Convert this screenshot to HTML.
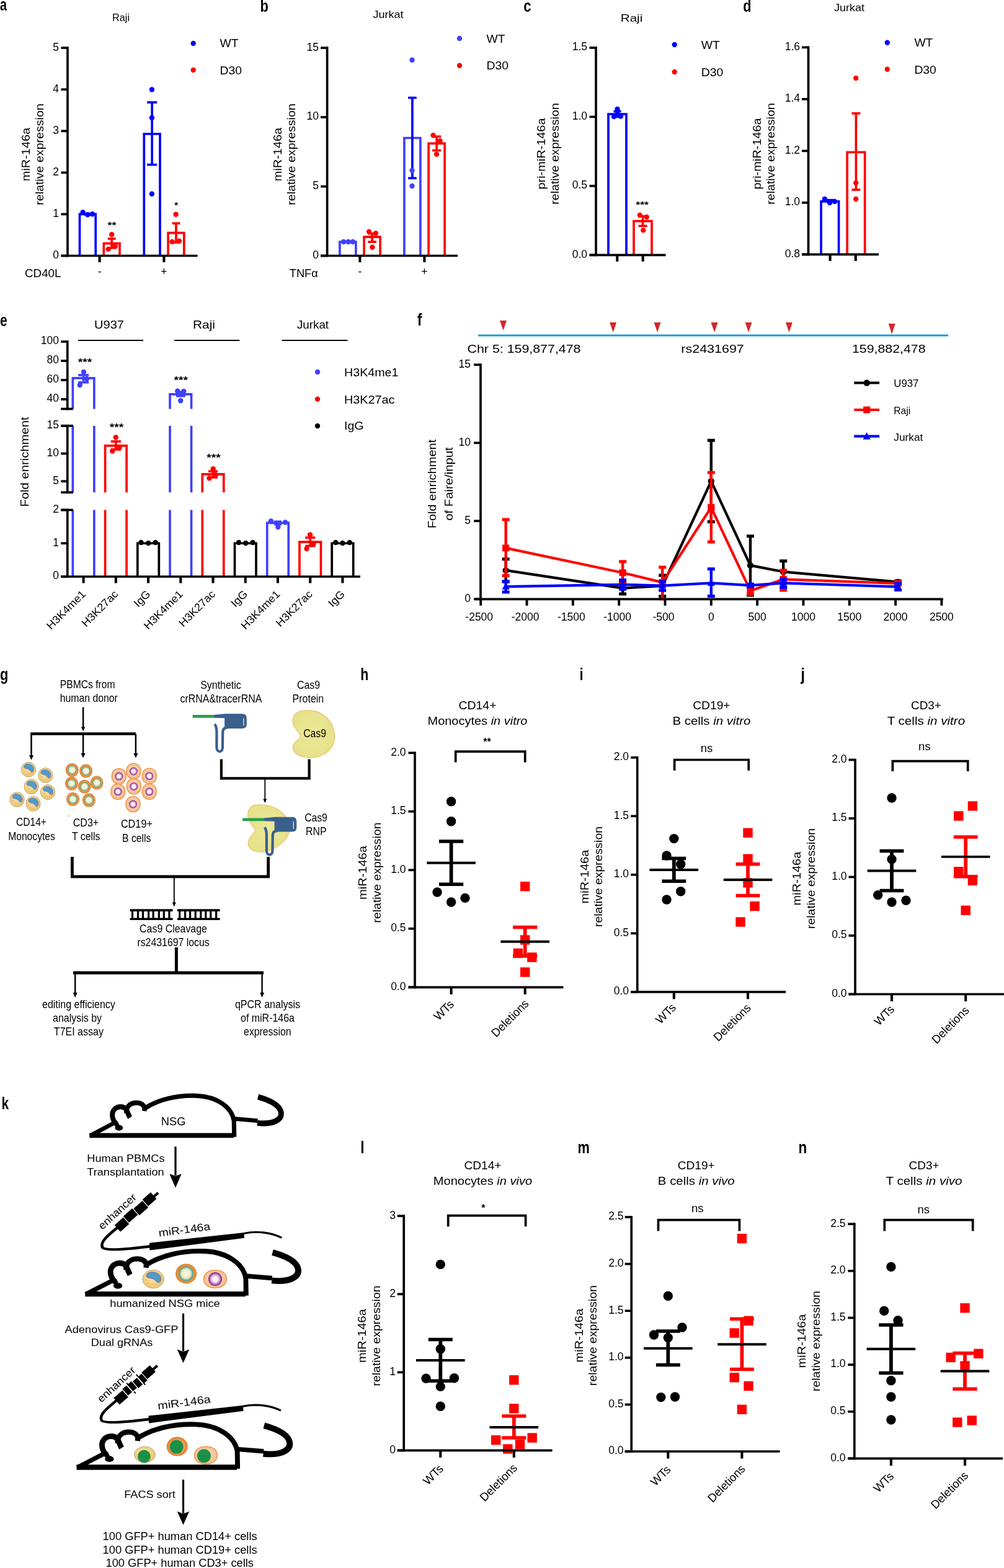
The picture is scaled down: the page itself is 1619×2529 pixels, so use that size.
<!DOCTYPE html>
<html><head><meta charset="utf-8"><title>Figure</title>
<style>
html,body{margin:0;padding:0;background:#fff;}
body{width:1619px;height:2529px;overflow:hidden;}
svg{display:block;}
text{font-family:'Liberation Sans', Arial, sans-serif;}
</style></head><body>
<svg width="1619" height="2529" viewBox="0 0 1619 2529">
<rect width="1619" height="2529" fill="#fff"/>
<text x="-0.08" y="16.7" font-size="27" font-weight="bold" textLength="10.95" lengthAdjust="spacingAndGlyphs">a</text>
<text x="195" y="34.1" font-size="17" text-anchor="middle" textLength="28" lengthAdjust="spacingAndGlyphs">Raji</text>
<path d="M128.5 412.5 V345.44 H154.2 V412.5" fill="none" stroke="#0000ff" stroke-width="3.7" stroke-linejoin="miter"/>
<path d="M167.3 412.5 V392.58 H193 V412.5" fill="none" stroke="#ff0000" stroke-width="3.7" stroke-linejoin="miter"/>
<path d="M232.3 412.5 V216.01 H258 V412.5" fill="none" stroke="#0000ff" stroke-width="3.7" stroke-linejoin="miter"/>
<path d="M271.1 412.5 V375.62 H296.8 V412.5" fill="none" stroke="#ff0000" stroke-width="3.7" stroke-linejoin="miter"/>
<line x1="141.35" y1="344.77" x2="141.35" y2="346.11" stroke="#0000ff" stroke-width="3.7"/>
<line x1="135.35" y1="344.77" x2="147.35" y2="344.77" stroke="#0000ff" stroke-width="3.7"/>
<line x1="135.35" y1="346.11" x2="147.35" y2="346.11" stroke="#0000ff" stroke-width="3.7"/>
<circle cx="133.6" cy="342.4" r="4.2" fill="#0000ff"/>
<circle cx="141.3" cy="346.2" r="4.2" fill="#0000ff"/>
<circle cx="148.9" cy="345.3" r="4.2" fill="#0000ff"/>
<line x1="180.15" y1="385.01" x2="180.15" y2="399.76" stroke="#ff0000" stroke-width="3.7"/>
<line x1="173.75" y1="385.01" x2="186.55" y2="385.01" stroke="#ff0000" stroke-width="3.7"/>
<line x1="173.75" y1="399.76" x2="186.55" y2="399.76" stroke="#ff0000" stroke-width="3.7"/>
<circle cx="180.2" cy="378.2" r="4.2" fill="#ff0000"/>
<circle cx="174.7" cy="401.9" r="4.2" fill="#ff0000"/>
<circle cx="185.7" cy="397.2" r="4.2" fill="#ff0000"/>
<line x1="245.15" y1="165.05" x2="245.15" y2="265.64" stroke="#0000ff" stroke-width="3.7"/>
<line x1="237.15" y1="165.05" x2="253.15" y2="165.05" stroke="#0000ff" stroke-width="3.7"/>
<line x1="237.15" y1="265.64" x2="253.15" y2="265.64" stroke="#0000ff" stroke-width="3.7"/>
<circle cx="244.9" cy="144.5" r="4.2" fill="#0000ff"/>
<circle cx="244.9" cy="190" r="4.2" fill="#0000ff"/>
<circle cx="244.9" cy="312.8" r="4.2" fill="#0000ff"/>
<line x1="283.95" y1="360.19" x2="283.95" y2="391.04" stroke="#ff0000" stroke-width="3.7"/>
<line x1="277.55" y1="360.19" x2="290.35" y2="360.19" stroke="#ff0000" stroke-width="3.7"/>
<line x1="277.55" y1="391.04" x2="290.35" y2="391.04" stroke="#ff0000" stroke-width="3.7"/>
<circle cx="283.6" cy="345.8" r="4.2" fill="#ff0000"/>
<circle cx="277.6" cy="390" r="4.2" fill="#ff0000"/>
<circle cx="289" cy="388.6" r="4.2" fill="#ff0000"/>
<line x1="109" y1="75.35" x2="109" y2="414.35" stroke="#000" stroke-width="3.7"/>
<line x1="98.5" y1="412.5" x2="109" y2="412.5" stroke="#000" stroke-width="3.7"/>
<text x="95" y="416.8" font-size="17.5" text-anchor="end">0</text>
<line x1="98.5" y1="345.44" x2="109" y2="345.44" stroke="#000" stroke-width="3.7"/>
<text x="95" y="349.74" font-size="17.5" text-anchor="end">1</text>
<line x1="98.5" y1="278.38" x2="109" y2="278.38" stroke="#000" stroke-width="3.7"/>
<text x="95" y="282.68" font-size="17.5" text-anchor="end">2</text>
<line x1="98.5" y1="211.32" x2="109" y2="211.32" stroke="#000" stroke-width="3.7"/>
<text x="95" y="215.62" font-size="17.5" text-anchor="end">3</text>
<line x1="98.5" y1="144.26" x2="109" y2="144.26" stroke="#000" stroke-width="3.7"/>
<text x="95" y="148.56" font-size="17.5" text-anchor="end">4</text>
<line x1="98.5" y1="77.2" x2="109" y2="77.2" stroke="#000" stroke-width="3.7"/>
<text x="95" y="81.5" font-size="17.5" text-anchor="end">5</text>
<line x1="98.5" y1="412.5" x2="318.5" y2="412.5" stroke="#000" stroke-width="3.7"/>
<line x1="160.6" y1="412.5" x2="160.6" y2="423" stroke="#000" stroke-width="4.1"/>
<line x1="264.4" y1="412.5" x2="264.4" y2="423" stroke="#000" stroke-width="4.1"/>
<text x="180.6" y="368.3" font-size="15" text-anchor="middle" font-weight="bold" textLength="14" lengthAdjust="spacingAndGlyphs">**</text>
<text x="284.1" y="336.4" font-size="15" text-anchor="middle" font-weight="bold">*</text>
<text x="47.7" y="249" font-size="17.6" text-anchor="middle" textLength="86.4" lengthAdjust="spacingAndGlyphs" transform="rotate(-90 47.7 249)">miR-146a</text>
<text x="69.5" y="249" font-size="17.6" text-anchor="middle" textLength="163.6" lengthAdjust="spacingAndGlyphs" transform="rotate(-90 69.5 249)">relative expression</text>
<circle cx="311.7" cy="70" r="4.2" fill="#0000ff"/>
<circle cx="311.7" cy="113" r="4.2" fill="#ff0000"/>
<text x="354.5" y="76.3" font-size="17.5" textLength="30" lengthAdjust="spacingAndGlyphs">WT</text>
<text x="354.5" y="119.5" font-size="17.5" textLength="35.5" lengthAdjust="spacingAndGlyphs">D30</text>
<text x="40" y="447" font-size="17.5" textLength="58.5" lengthAdjust="spacingAndGlyphs">CD40L</text>
<text x="160.6" y="444" font-size="17.5" text-anchor="middle">-</text>
<text x="264.4" y="444" font-size="17.5" text-anchor="middle">+</text>
<text x="419.54" y="19.3" font-size="27" font-weight="bold" textLength="13.34" lengthAdjust="spacingAndGlyphs">b</text>
<text x="626" y="29.2" font-size="17" text-anchor="middle" textLength="49" lengthAdjust="spacingAndGlyphs">Jurkat</text>
<path d="M547.9 412.5 V390.15 H573.9 V412.5" fill="none" stroke="#4040ff" stroke-width="3.7" stroke-linejoin="miter"/>
<path d="M587.1 412.5 V382.1 H613.1 V412.5" fill="none" stroke="#ff0000" stroke-width="3.7" stroke-linejoin="miter"/>
<path d="M651.9 412.5 V222.5 H677.9 V412.5" fill="none" stroke="#4040ff" stroke-width="3.7" stroke-linejoin="miter"/>
<path d="M691.1 412.5 V231.44 H717.1 V412.5" fill="none" stroke="#ff0000" stroke-width="3.7" stroke-linejoin="miter"/>
<line x1="560.9" y1="389.7" x2="560.9" y2="390.59" stroke="#0000ff" stroke-width="3.7"/>
<line x1="554.9" y1="389.7" x2="566.9" y2="389.7" stroke="#0000ff" stroke-width="3.7"/>
<line x1="554.9" y1="390.59" x2="566.9" y2="390.59" stroke="#0000ff" stroke-width="3.7"/>
<circle cx="554" cy="390" r="4.2" fill="#4040ff"/>
<circle cx="561.7" cy="390" r="4.2" fill="#4040ff"/>
<circle cx="569" cy="390" r="4.2" fill="#4040ff"/>
<line x1="600.1" y1="376.73" x2="600.1" y2="390.15" stroke="#ff0000" stroke-width="3.7"/>
<line x1="593.3" y1="376.73" x2="606.9" y2="376.73" stroke="#ff0000" stroke-width="3.7"/>
<line x1="593.3" y1="390.15" x2="606.9" y2="390.15" stroke="#ff0000" stroke-width="3.7"/>
<circle cx="595" cy="373.6" r="4.2" fill="#ff0000"/>
<circle cx="605.9" cy="376.3" r="4.2" fill="#ff0000"/>
<circle cx="600.4" cy="398.7" r="4.2" fill="#ff0000"/>
<line x1="664.9" y1="157.67" x2="664.9" y2="287.32" stroke="#0000ff" stroke-width="3.7"/>
<line x1="658.1" y1="157.67" x2="671.7" y2="157.67" stroke="#0000ff" stroke-width="3.7"/>
<line x1="658.1" y1="287.32" x2="671.7" y2="287.32" stroke="#0000ff" stroke-width="3.7"/>
<circle cx="664.5" cy="96.8" r="4.2" fill="#4040ff"/>
<circle cx="664.5" cy="274.9" r="4.2" fill="#4040ff"/>
<circle cx="664.5" cy="300" r="4.2" fill="#4040ff"/>
<line x1="704.1" y1="220.26" x2="704.1" y2="242.61" stroke="#ff0000" stroke-width="3.7"/>
<line x1="697.1" y1="220.26" x2="711.1" y2="220.26" stroke="#ff0000" stroke-width="3.7"/>
<line x1="697.1" y1="242.61" x2="711.1" y2="242.61" stroke="#ff0000" stroke-width="3.7"/>
<circle cx="698.6" cy="218.2" r="4.2" fill="#ff0000"/>
<circle cx="709.5" cy="227.2" r="4.2" fill="#ff0000"/>
<circle cx="704" cy="248.7" r="4.2" fill="#ff0000"/>
<line x1="527.6" y1="75.35" x2="527.6" y2="414.35" stroke="#000" stroke-width="3.7"/>
<line x1="517.1" y1="412.5" x2="527.6" y2="412.5" stroke="#000" stroke-width="3.7"/>
<text x="514" y="416.8" font-size="17.5" text-anchor="end">0</text>
<line x1="517.1" y1="300.73" x2="527.6" y2="300.73" stroke="#000" stroke-width="3.7"/>
<text x="514" y="305.03" font-size="17.5" text-anchor="end">5</text>
<line x1="517.1" y1="188.97" x2="527.6" y2="188.97" stroke="#000" stroke-width="3.7"/>
<text x="514" y="193.27" font-size="17.5" text-anchor="end">10</text>
<line x1="517.1" y1="77.2" x2="527.6" y2="77.2" stroke="#000" stroke-width="3.7"/>
<text x="514" y="81.5" font-size="17.5" text-anchor="end">15</text>
<line x1="517.1" y1="412.5" x2="738" y2="412.5" stroke="#000" stroke-width="3.7"/>
<line x1="580.4" y1="412.5" x2="580.4" y2="423" stroke="#000" stroke-width="4.1"/>
<line x1="684.4" y1="412.5" x2="684.4" y2="423" stroke="#000" stroke-width="4.1"/>
<text x="454" y="249" font-size="17.6" text-anchor="middle" textLength="86.4" lengthAdjust="spacingAndGlyphs" transform="rotate(-90 454 249)">miR-146a</text>
<text x="475.8" y="249" font-size="17.6" text-anchor="middle" textLength="163.6" lengthAdjust="spacingAndGlyphs" transform="rotate(-90 475.8 249)">relative expression</text>
<circle cx="741" cy="62" r="4.2" fill="#4040ff"/>
<circle cx="741" cy="105.8" r="4.2" fill="#ff0000"/>
<text x="784.5" y="68.7" font-size="17.5" textLength="30" lengthAdjust="spacingAndGlyphs">WT</text>
<text x="784.5" y="112" font-size="17.5" textLength="35.5" lengthAdjust="spacingAndGlyphs">D30</text>
<text x="466.8" y="447" font-size="17.5" textLength="46" lengthAdjust="spacingAndGlyphs">TNFα</text>
<text x="580.4" y="444" font-size="17.5" text-anchor="middle">-</text>
<text x="684.4" y="444" font-size="17.5" text-anchor="middle">+</text>
<text x="844.2" y="19.3" font-size="27" font-weight="bold" textLength="12.26" lengthAdjust="spacingAndGlyphs">c</text>
<text x="1018.5" y="35" font-size="17" text-anchor="middle" textLength="35.5" lengthAdjust="spacingAndGlyphs">Raji</text>
<path d="M981 411.3 V183.98 H1010 V411.3" fill="none" stroke="#0000ff" stroke-width="3.7" stroke-linejoin="miter"/>
<path d="M1022 411.3 V356.7 H1051 V411.3" fill="none" stroke="#ff0000" stroke-width="3.7" stroke-linejoin="miter"/>
<line x1="995.5" y1="179.52" x2="995.5" y2="188.43" stroke="#0000ff" stroke-width="3.7"/>
<line x1="989.5" y1="179.52" x2="1001.5" y2="179.52" stroke="#0000ff" stroke-width="3.7"/>
<line x1="989.5" y1="188.43" x2="1001.5" y2="188.43" stroke="#0000ff" stroke-width="3.7"/>
<circle cx="990" cy="188" r="4.2" fill="#0000ff"/>
<circle cx="995.5" cy="176" r="4.2" fill="#0000ff"/>
<circle cx="1001" cy="187.6" r="4.2" fill="#0000ff"/>
<circle cx="995.5" cy="184" r="4.2" fill="#0000ff"/>
<line x1="1036.5" y1="348.9" x2="1036.5" y2="364.5" stroke="#ff0000" stroke-width="3.7"/>
<line x1="1029.5" y1="348.9" x2="1043.5" y2="348.9" stroke="#ff0000" stroke-width="3.7"/>
<line x1="1029.5" y1="364.5" x2="1043.5" y2="364.5" stroke="#ff0000" stroke-width="3.7"/>
<circle cx="1031.8" cy="347" r="4.2" fill="#ff0000"/>
<circle cx="1042.7" cy="350" r="4.2" fill="#ff0000"/>
<circle cx="1037.3" cy="371.4" r="4.2" fill="#ff0000"/>
<line x1="961" y1="75.15" x2="961" y2="413.15" stroke="#000" stroke-width="3.7"/>
<line x1="950.5" y1="411.3" x2="961" y2="411.3" stroke="#000" stroke-width="3.7"/>
<text x="947" y="415.6" font-size="17.5" text-anchor="end">0.0</text>
<line x1="950.5" y1="299.87" x2="961" y2="299.87" stroke="#000" stroke-width="3.7"/>
<text x="947" y="304.17" font-size="17.5" text-anchor="end">0.5</text>
<line x1="950.5" y1="188.43" x2="961" y2="188.43" stroke="#000" stroke-width="3.7"/>
<text x="947" y="192.73" font-size="17.5" text-anchor="end">1.0</text>
<line x1="950.5" y1="77" x2="961" y2="77" stroke="#000" stroke-width="3.7"/>
<text x="947" y="81.3" font-size="17.5" text-anchor="end">1.5</text>
<line x1="950.5" y1="411.3" x2="1073.5" y2="411.3" stroke="#000" stroke-width="3.7"/>
<line x1="995.3" y1="411.3" x2="995.3" y2="421.8" stroke="#000" stroke-width="4.1"/>
<line x1="1036.7" y1="411.3" x2="1036.7" y2="421.8" stroke="#000" stroke-width="4.1"/>
<text x="1035.6" y="335.3" font-size="15" text-anchor="middle" font-weight="bold" textLength="20.5" lengthAdjust="spacingAndGlyphs">***</text>
<text x="879" y="248" font-size="17.6" text-anchor="middle" textLength="115" lengthAdjust="spacingAndGlyphs" transform="rotate(-90 879 248)">pri-miR-146a</text>
<text x="900.8" y="248" font-size="17.6" text-anchor="middle" textLength="163.6" lengthAdjust="spacingAndGlyphs" transform="rotate(-90 900.8 248)">relative expression</text>
<circle cx="1087.7" cy="72" r="4.2" fill="#0000ff"/>
<circle cx="1087.7" cy="116" r="4.2" fill="#ff0000"/>
<text x="1130.8" y="79" font-size="17.5" textLength="30" lengthAdjust="spacingAndGlyphs">WT</text>
<text x="1130.8" y="122.7" font-size="17.5" textLength="35.5" lengthAdjust="spacingAndGlyphs">D30</text>
<text x="1198.32" y="19.2" font-size="27" font-weight="bold" textLength="13.22" lengthAdjust="spacingAndGlyphs">d</text>
<text x="1369.4" y="17.7" font-size="17" text-anchor="middle" textLength="49" lengthAdjust="spacingAndGlyphs">Jurkat</text>
<path d="M1324.05 410.4 V324.81 H1352.55 V410.4" fill="none" stroke="#0000ff" stroke-width="3.7" stroke-linejoin="miter"/>
<path d="M1366.15 410.4 V245.49 H1394.65 V410.4" fill="none" stroke="#ff0000" stroke-width="3.7" stroke-linejoin="miter"/>
<line x1="1338.3" y1="322.72" x2="1338.3" y2="324.81" stroke="#0000ff" stroke-width="3.7"/>
<line x1="1332.3" y1="322.72" x2="1344.3" y2="322.72" stroke="#0000ff" stroke-width="3.7"/>
<line x1="1332.3" y1="324.81" x2="1344.3" y2="324.81" stroke="#0000ff" stroke-width="3.7"/>
<circle cx="1329.9" cy="321" r="4.2" fill="#0000ff"/>
<circle cx="1338" cy="327" r="4.2" fill="#0000ff"/>
<circle cx="1346" cy="325" r="4.2" fill="#0000ff"/>
<line x1="1380.4" y1="182.86" x2="1380.4" y2="306.02" stroke="#ff0000" stroke-width="3.7"/>
<line x1="1373.4" y1="182.86" x2="1387.4" y2="182.86" stroke="#ff0000" stroke-width="3.7"/>
<line x1="1373.4" y1="306.02" x2="1387.4" y2="306.02" stroke="#ff0000" stroke-width="3.7"/>
<circle cx="1380.2" cy="126" r="4.2" fill="#ff0000"/>
<circle cx="1380.2" cy="295" r="4.2" fill="#ff0000"/>
<circle cx="1380.2" cy="321" r="4.2" fill="#ff0000"/>
<line x1="1303.5" y1="74.55" x2="1303.5" y2="412.25" stroke="#000" stroke-width="3.7"/>
<line x1="1293" y1="410.4" x2="1303.5" y2="410.4" stroke="#000" stroke-width="3.7"/>
<text x="1290" y="414.7" font-size="17.5" text-anchor="end">0.8</text>
<line x1="1293" y1="326.9" x2="1303.5" y2="326.9" stroke="#000" stroke-width="3.7"/>
<text x="1290" y="331.2" font-size="17.5" text-anchor="end">1.0</text>
<line x1="1293" y1="243.4" x2="1303.5" y2="243.4" stroke="#000" stroke-width="3.7"/>
<text x="1290" y="247.7" font-size="17.5" text-anchor="end">1.2</text>
<line x1="1293" y1="159.9" x2="1303.5" y2="159.9" stroke="#000" stroke-width="3.7"/>
<text x="1290" y="164.2" font-size="17.5" text-anchor="end">1.4</text>
<line x1="1293" y1="76.4" x2="1303.5" y2="76.4" stroke="#000" stroke-width="3.7"/>
<text x="1290" y="80.7" font-size="17.5" text-anchor="end">1.6</text>
<line x1="1293" y1="410.4" x2="1417" y2="410.4" stroke="#000" stroke-width="3.7"/>
<line x1="1338.6" y1="410.4" x2="1338.6" y2="420.9" stroke="#000" stroke-width="4.1"/>
<line x1="1379.8" y1="410.4" x2="1379.8" y2="420.9" stroke="#000" stroke-width="4.1"/>
<text x="1227" y="248" font-size="17.6" text-anchor="middle" textLength="115" lengthAdjust="spacingAndGlyphs" transform="rotate(-90 1227 248)">pri-miR-146a</text>
<text x="1248.8" y="248" font-size="17.6" text-anchor="middle" textLength="163.6" lengthAdjust="spacingAndGlyphs" transform="rotate(-90 1248.8 248)">relative expression</text>
<circle cx="1430.8" cy="68.7" r="4.2" fill="#0000ff"/>
<circle cx="1430.8" cy="111.8" r="4.2" fill="#ff0000"/>
<text x="1474.4" y="75" font-size="17.5" textLength="30" lengthAdjust="spacingAndGlyphs">WT</text>
<text x="1474.4" y="119" font-size="17.5" textLength="35.5" lengthAdjust="spacingAndGlyphs">D30</text>
<text x="-0.05" y="525.5" font-size="27" font-weight="bold" textLength="11.67" lengthAdjust="spacingAndGlyphs">e</text>
<path d="M117.35 659.5 V609.9 H151.85 V659.5" fill="none" stroke="#4040ff" stroke-width="3.7"/>
<line x1="117.35" y1="794.15" x2="117.35" y2="686.75" stroke="#4040ff" stroke-width="3.7"/>
<line x1="151.85" y1="794.15" x2="151.85" y2="686.75" stroke="#4040ff" stroke-width="3.7"/>
<line x1="117.35" y1="930" x2="117.35" y2="822.5" stroke="#4040ff" stroke-width="3.7"/>
<line x1="151.85" y1="930" x2="151.85" y2="822.5" stroke="#4040ff" stroke-width="3.7"/>
<line x1="134.6" y1="604.94" x2="134.6" y2="616.72" stroke="#4040ff" stroke-width="3.7"/>
<line x1="126.1" y1="604.94" x2="143.1" y2="604.94" stroke="#4040ff" stroke-width="3.7"/>
<line x1="126.1" y1="616.72" x2="143.1" y2="616.72" stroke="#4040ff" stroke-width="3.7"/>
<circle cx="135" cy="600" r="4.2" fill="#4040ff"/>
<circle cx="140" cy="611" r="4.2" fill="#4040ff"/>
<circle cx="128.75" cy="621" r="4.2" fill="#4040ff"/>
<path d="M169.58 794.15 V718.79 H204.08 V794.15" fill="none" stroke="#ff0000" stroke-width="3.7"/>
<line x1="169.58" y1="930" x2="169.58" y2="822.5" stroke="#ff0000" stroke-width="3.7"/>
<line x1="204.08" y1="930" x2="204.08" y2="822.5" stroke="#ff0000" stroke-width="3.7"/>
<line x1="186.83" y1="711.99" x2="186.83" y2="724.97" stroke="#ff0000" stroke-width="3.7"/>
<line x1="178.73" y1="711.99" x2="194.93" y2="711.99" stroke="#ff0000" stroke-width="3.7"/>
<line x1="178.73" y1="724.97" x2="194.93" y2="724.97" stroke="#ff0000" stroke-width="3.7"/>
<circle cx="186.75" cy="705.5" r="4.2" fill="#ff0000"/>
<circle cx="192.5" cy="722.5" r="4.2" fill="#ff0000"/>
<circle cx="181.25" cy="727.5" r="4.2" fill="#ff0000"/>
<path d="M221.81 930 V876.25 H256.31 V930" fill="none" stroke="#000" stroke-width="3.7"/>
<circle cx="227.5" cy="875" r="4.2" fill="#000"/>
<circle cx="239.25" cy="876" r="4.2" fill="#000"/>
<circle cx="250.75" cy="875" r="4.2" fill="#000"/>
<path d="M274.04 659.5 V635.78 H308.54 V659.5" fill="none" stroke="#4040ff" stroke-width="3.7"/>
<line x1="274.04" y1="794.15" x2="274.04" y2="686.75" stroke="#4040ff" stroke-width="3.7"/>
<line x1="308.54" y1="794.15" x2="308.54" y2="686.75" stroke="#4040ff" stroke-width="3.7"/>
<line x1="274.04" y1="930" x2="274.04" y2="822.5" stroke="#4040ff" stroke-width="3.7"/>
<line x1="308.54" y1="930" x2="308.54" y2="822.5" stroke="#4040ff" stroke-width="3.7"/>
<line x1="291.29" y1="632.22" x2="291.29" y2="638.73" stroke="#4040ff" stroke-width="3.7"/>
<line x1="283.79" y1="632.22" x2="298.79" y2="632.22" stroke="#4040ff" stroke-width="3.7"/>
<line x1="283.79" y1="638.73" x2="298.79" y2="638.73" stroke="#4040ff" stroke-width="3.7"/>
<circle cx="286.25" cy="630.75" r="4.2" fill="#4040ff"/>
<circle cx="296.25" cy="631.25" r="4.2" fill="#4040ff"/>
<circle cx="291.25" cy="646.25" r="4.2" fill="#4040ff"/>
<path d="M326.27 794.15 V764.97 H360.77 V794.15" fill="none" stroke="#ff0000" stroke-width="3.7"/>
<line x1="326.27" y1="930" x2="326.27" y2="822.5" stroke="#ff0000" stroke-width="3.7"/>
<line x1="360.77" y1="930" x2="360.77" y2="822.5" stroke="#ff0000" stroke-width="3.7"/>
<line x1="343.52" y1="760.14" x2="343.52" y2="769.99" stroke="#ff0000" stroke-width="3.7"/>
<line x1="336.02" y1="760.14" x2="351.02" y2="760.14" stroke="#ff0000" stroke-width="3.7"/>
<line x1="336.02" y1="769.99" x2="351.02" y2="769.99" stroke="#ff0000" stroke-width="3.7"/>
<circle cx="343.75" cy="756.25" r="4.2" fill="#ff0000"/>
<circle cx="347.5" cy="766.25" r="4.2" fill="#ff0000"/>
<circle cx="337.5" cy="771.25" r="4.2" fill="#ff0000"/>
<path d="M378.5 930 V876.25 H413 V930" fill="none" stroke="#000" stroke-width="3.7"/>
<circle cx="385" cy="875" r="4.2" fill="#000"/>
<circle cx="396.25" cy="876" r="4.2" fill="#000"/>
<circle cx="407.5" cy="875" r="4.2" fill="#000"/>
<path d="M430.73 930 V843.46 H465.23 V930" fill="none" stroke="#4040ff" stroke-width="3.7"/>
<line x1="447.98" y1="841.31" x2="447.98" y2="845.61" stroke="#4040ff" stroke-width="3.7"/>
<line x1="441.98" y1="841.31" x2="453.98" y2="841.31" stroke="#4040ff" stroke-width="3.7"/>
<line x1="441.98" y1="845.61" x2="453.98" y2="845.61" stroke="#4040ff" stroke-width="3.7"/>
<circle cx="437" cy="840.5" r="4.2" fill="#4040ff"/>
<circle cx="460" cy="842.5" r="4.2" fill="#4040ff"/>
<circle cx="448.25" cy="850" r="4.2" fill="#4040ff"/>
<path d="M482.96 930 V874.1 H517.46 V930" fill="none" stroke="#ff0000" stroke-width="3.7"/>
<line x1="500.21" y1="867.11" x2="500.21" y2="880.55" stroke="#ff0000" stroke-width="3.7"/>
<line x1="492.21" y1="867.11" x2="508.21" y2="867.11" stroke="#ff0000" stroke-width="3.7"/>
<line x1="492.21" y1="880.55" x2="508.21" y2="880.55" stroke="#ff0000" stroke-width="3.7"/>
<circle cx="494.5" cy="885" r="4.2" fill="#ff0000"/>
<circle cx="500" cy="862.5" r="4.2" fill="#ff0000"/>
<circle cx="505.5" cy="877.5" r="4.2" fill="#ff0000"/>
<path d="M535.19 930 V876.25 H569.69 V930" fill="none" stroke="#000" stroke-width="3.7"/>
<circle cx="541.25" cy="875" r="4.2" fill="#000"/>
<circle cx="552.5" cy="876" r="4.2" fill="#000"/>
<circle cx="563.75" cy="875" r="4.2" fill="#000"/>
<line x1="108.75" y1="549.15" x2="108.75" y2="661.35" stroke="#000" stroke-width="3.7"/>
<line x1="108.75" y1="684.9" x2="108.75" y2="796" stroke="#000" stroke-width="3.7"/>
<line x1="108.75" y1="820.65" x2="108.75" y2="931.85" stroke="#000" stroke-width="3.7"/>
<line x1="98.25" y1="551" x2="108.75" y2="551" stroke="#000" stroke-width="3.7"/>
<text x="95" y="555.3" font-size="17.5" text-anchor="end">100</text>
<line x1="98.25" y1="582" x2="108.75" y2="582" stroke="#000" stroke-width="3.7"/>
<text x="95" y="586.3" font-size="17.5" text-anchor="end">80</text>
<line x1="98.25" y1="613" x2="108.75" y2="613" stroke="#000" stroke-width="3.7"/>
<text x="95" y="617.3" font-size="17.5" text-anchor="end">60</text>
<line x1="98.25" y1="644" x2="108.75" y2="644" stroke="#000" stroke-width="3.7"/>
<text x="95" y="648.3" font-size="17.5" text-anchor="end">40</text>
<line x1="98.25" y1="659.5" x2="117.75" y2="659.5" stroke="#000" stroke-width="3.7"/>
<line x1="98.25" y1="686.75" x2="108.75" y2="686.75" stroke="#000" stroke-width="3.7"/>
<text x="95" y="691.05" font-size="17.5" text-anchor="end">15</text>
<line x1="98.25" y1="731.5" x2="108.75" y2="731.5" stroke="#000" stroke-width="3.7"/>
<text x="95" y="735.8" font-size="17.5" text-anchor="end">10</text>
<line x1="98.25" y1="776.25" x2="108.75" y2="776.25" stroke="#000" stroke-width="3.7"/>
<text x="95" y="780.55" font-size="17.5" text-anchor="end">5</text>
<line x1="98.25" y1="686.75" x2="117.75" y2="686.75" stroke="#000" stroke-width="3.7"/>
<line x1="98.25" y1="794.15" x2="117.75" y2="794.15" stroke="#000" stroke-width="3.7"/>
<line x1="98.25" y1="822.5" x2="108.75" y2="822.5" stroke="#000" stroke-width="3.7"/>
<text x="95" y="826.8" font-size="17.5" text-anchor="end">2</text>
<line x1="98.25" y1="876.25" x2="108.75" y2="876.25" stroke="#000" stroke-width="3.7"/>
<text x="95" y="880.55" font-size="17.5" text-anchor="end">1</text>
<line x1="98.25" y1="930" x2="108.75" y2="930" stroke="#000" stroke-width="3.7"/>
<text x="95" y="934.3" font-size="17.5" text-anchor="end">0</text>
<line x1="98.25" y1="822.5" x2="117.75" y2="822.5" stroke="#000" stroke-width="3.7"/>
<line x1="98.25" y1="930" x2="581" y2="930" stroke="#000" stroke-width="3.7"/>
<line x1="134.6" y1="930" x2="134.6" y2="940.5" stroke="#000" stroke-width="4.1"/>
<line x1="186.83" y1="930" x2="186.83" y2="940.5" stroke="#000" stroke-width="4.1"/>
<line x1="239.06" y1="930" x2="239.06" y2="940.5" stroke="#000" stroke-width="4.1"/>
<line x1="291.29" y1="930" x2="291.29" y2="940.5" stroke="#000" stroke-width="4.1"/>
<line x1="343.52" y1="930" x2="343.52" y2="940.5" stroke="#000" stroke-width="4.1"/>
<line x1="395.75" y1="930" x2="395.75" y2="940.5" stroke="#000" stroke-width="4.1"/>
<line x1="447.98" y1="930" x2="447.98" y2="940.5" stroke="#000" stroke-width="4.1"/>
<line x1="500.21" y1="930" x2="500.21" y2="940.5" stroke="#000" stroke-width="4.1"/>
<line x1="552.44" y1="930" x2="552.44" y2="940.5" stroke="#000" stroke-width="4.1"/>
<text x="139.2" y="959.3" font-size="17.5" text-anchor="end" textLength="80.5" lengthAdjust="spacingAndGlyphs" transform="rotate(-45 139.2 959.3)">H3K4me1</text>
<text x="191.43" y="959.3" font-size="17.5" text-anchor="end" textLength="74.5" lengthAdjust="spacingAndGlyphs" transform="rotate(-45 191.43 959.3)">H3K27ac</text>
<text x="243.66" y="959.3" font-size="17.5" text-anchor="end" textLength="29.5" lengthAdjust="spacingAndGlyphs" transform="rotate(-45 243.66 959.3)">IgG</text>
<text x="295.89" y="959.3" font-size="17.5" text-anchor="end" textLength="80.5" lengthAdjust="spacingAndGlyphs" transform="rotate(-45 295.89 959.3)">H3K4me1</text>
<text x="348.12" y="959.3" font-size="17.5" text-anchor="end" textLength="74.5" lengthAdjust="spacingAndGlyphs" transform="rotate(-45 348.12 959.3)">H3K27ac</text>
<text x="400.35" y="959.3" font-size="17.5" text-anchor="end" textLength="29.5" lengthAdjust="spacingAndGlyphs" transform="rotate(-45 400.35 959.3)">IgG</text>
<text x="452.58" y="959.3" font-size="17.5" text-anchor="end" textLength="80.5" lengthAdjust="spacingAndGlyphs" transform="rotate(-45 452.58 959.3)">H3K4me1</text>
<text x="504.81" y="959.3" font-size="17.5" text-anchor="end" textLength="74.5" lengthAdjust="spacingAndGlyphs" transform="rotate(-45 504.81 959.3)">H3K27ac</text>
<text x="557.04" y="959.3" font-size="17.5" text-anchor="end" textLength="29.5" lengthAdjust="spacingAndGlyphs" transform="rotate(-45 557.04 959.3)">IgG</text>
<text x="176" y="530" font-size="17.5" text-anchor="middle" textLength="48" lengthAdjust="spacingAndGlyphs">U937</text>
<text x="329" y="530" font-size="17.5" text-anchor="middle" textLength="36" lengthAdjust="spacingAndGlyphs">Raji</text>
<text x="504.5" y="530" font-size="17.5" text-anchor="middle" textLength="51" lengthAdjust="spacingAndGlyphs">Jurkat</text>
<line x1="126" y1="549" x2="231" y2="549" stroke="#000" stroke-width="2.2"/>
<line x1="281" y1="549" x2="386.25" y2="549" stroke="#000" stroke-width="2.2"/>
<line x1="454.5" y1="549" x2="560.5" y2="549" stroke="#000" stroke-width="2.2"/>
<text x="137" y="590" font-size="16" text-anchor="middle" font-weight="bold" textLength="22.5" lengthAdjust="spacingAndGlyphs">***</text>
<text x="188" y="695" font-size="16" text-anchor="middle" font-weight="bold" textLength="22.5" lengthAdjust="spacingAndGlyphs">***</text>
<text x="291.75" y="619.3" font-size="16" text-anchor="middle" font-weight="bold" textLength="22.5" lengthAdjust="spacingAndGlyphs">***</text>
<text x="344.5" y="744.3" font-size="16" text-anchor="middle" font-weight="bold" textLength="22.5" lengthAdjust="spacingAndGlyphs">***</text>
<circle cx="512" cy="600" r="4.2" fill="#4040ff"/>
<circle cx="512" cy="643.75" r="4.2" fill="#ff0000"/>
<circle cx="512" cy="687" r="4.2" fill="#000"/>
<text x="555" y="607" font-size="17.5" textLength="87.5" lengthAdjust="spacingAndGlyphs">H3K4me1</text>
<text x="555" y="650.5" font-size="17.5" textLength="81.5" lengthAdjust="spacingAndGlyphs">H3K27ac</text>
<text x="555" y="693" font-size="17.5" textLength="31.5" lengthAdjust="spacingAndGlyphs">IgG</text>
<text x="46.3" y="745" font-size="18" text-anchor="middle" textLength="145" lengthAdjust="spacingAndGlyphs" transform="rotate(-90 46.3 745)">Fold enrichment</text>
<text x="672.67" y="525.1" font-size="27" font-weight="bold" textLength="7.72" lengthAdjust="spacingAndGlyphs">f</text>
<line x1="771" y1="541" x2="1529.2" y2="541" stroke="#1c9ad6" stroke-width="3"/>
<path d="M806 517 L817 517 L811.5 533 Z" fill="#d42a2a"/>
<path d="M983.1 520 L994.1 520 L988.6 536 Z" fill="#d42a2a"/>
<path d="M1054.5 520 L1065.5 520 L1060 536 Z" fill="#d42a2a"/>
<path d="M1146.5 520 L1157.5 520 L1152 536 Z" fill="#d42a2a"/>
<path d="M1201.5 520 L1212.5 520 L1207 536 Z" fill="#d42a2a"/>
<path d="M1266.9 520 L1277.9 520 L1272.4 536 Z" fill="#d42a2a"/>
<path d="M1432.7 522 L1443.7 522 L1438.2 539 Z" fill="#d42a2a"/>
<text x="753.5" y="568.6" font-size="18.5" textLength="183" lengthAdjust="spacingAndGlyphs">Chr 5: 159,877,478</text>
<text x="1098.3" y="568.6" font-size="18.5" textLength="101.5" lengthAdjust="spacingAndGlyphs">rs2431697</text>
<text x="1374" y="568.6" font-size="18.5" textLength="118.5" lengthAdjust="spacingAndGlyphs">159,882,478</text>
<polyline points="815.65,919.93 1004.12,948.66 1068.17,944.88 1146.8,776.04 1209.97,911.87 1263.18,922.2 1448.07,938.58" fill="none" stroke="#000" stroke-width="4.2" stroke-linejoin="round"/>
<line x1="815.65" y1="901.79" x2="815.65" y2="938.08" stroke="#000" stroke-width="4.4"/>
<line x1="809.65" y1="901.79" x2="821.65" y2="901.79" stroke="#000" stroke-width="5"/>
<line x1="809.65" y1="938.08" x2="821.65" y2="938.08" stroke="#000" stroke-width="5"/>
<circle cx="815.65" cy="919.93" r="5.2" fill="#000"/>
<line x1="1004.12" y1="939.34" x2="1004.12" y2="957.98" stroke="#000" stroke-width="4.4"/>
<line x1="998.12" y1="939.34" x2="1010.12" y2="939.34" stroke="#000" stroke-width="5"/>
<line x1="998.12" y1="957.98" x2="1010.12" y2="957.98" stroke="#000" stroke-width="5"/>
<circle cx="1004.12" cy="948.66" r="5.2" fill="#000"/>
<line x1="1068.17" y1="928" x2="1068.17" y2="961.76" stroke="#000" stroke-width="4.4"/>
<line x1="1062.17" y1="928" x2="1074.17" y2="928" stroke="#000" stroke-width="5"/>
<line x1="1062.17" y1="961.76" x2="1074.17" y2="961.76" stroke="#000" stroke-width="5"/>
<circle cx="1068.17" cy="944.88" r="5.2" fill="#000"/>
<line x1="1146.8" y1="710.27" x2="1146.8" y2="841.56" stroke="#000" stroke-width="4.4"/>
<line x1="1140.8" y1="710.27" x2="1152.8" y2="710.27" stroke="#000" stroke-width="5"/>
<line x1="1140.8" y1="841.56" x2="1152.8" y2="841.56" stroke="#000" stroke-width="5"/>
<circle cx="1146.8" cy="776.04" r="5.2" fill="#000"/>
<line x1="1209.97" y1="864.74" x2="1209.97" y2="960" stroke="#000" stroke-width="4.4"/>
<line x1="1203.97" y1="864.74" x2="1215.97" y2="864.74" stroke="#000" stroke-width="5"/>
<line x1="1203.97" y1="960" x2="1215.97" y2="960" stroke="#000" stroke-width="5"/>
<circle cx="1209.97" cy="911.87" r="5.2" fill="#000"/>
<line x1="1263.18" y1="904.81" x2="1263.18" y2="939.59" stroke="#000" stroke-width="4.4"/>
<line x1="1257.18" y1="904.81" x2="1269.18" y2="904.81" stroke="#000" stroke-width="5"/>
<line x1="1257.18" y1="939.59" x2="1269.18" y2="939.59" stroke="#000" stroke-width="5"/>
<circle cx="1263.18" cy="922.2" r="5.2" fill="#000"/>
<line x1="1448.07" y1="937.07" x2="1448.07" y2="940.09" stroke="#000" stroke-width="4.4"/>
<line x1="1442.07" y1="937.07" x2="1454.07" y2="937.07" stroke="#000" stroke-width="5"/>
<line x1="1442.07" y1="940.09" x2="1454.07" y2="940.09" stroke="#000" stroke-width="5"/>
<circle cx="1448.07" cy="938.58" r="5.2" fill="#000"/>
<polyline points="815.65,883.9 1004.12,923.71 1068.17,939.34 1146.8,818.38 1209.97,952.94 1263.18,934.3 1448.07,940.85" fill="none" stroke="#ff0000" stroke-width="4.2" stroke-linejoin="round"/>
<line x1="815.65" y1="838.03" x2="815.65" y2="928.5" stroke="#ff0000" stroke-width="4.4"/>
<line x1="809.65" y1="838.03" x2="821.65" y2="838.03" stroke="#ff0000" stroke-width="5"/>
<line x1="809.65" y1="928.5" x2="821.65" y2="928.5" stroke="#ff0000" stroke-width="5"/>
<rect x="810.05" y="878.5" width="11.2" height="10.8" fill="#ff0000"/>
<line x1="1004.12" y1="905.82" x2="1004.12" y2="941.35" stroke="#ff0000" stroke-width="4.4"/>
<line x1="998.12" y1="905.82" x2="1010.12" y2="905.82" stroke="#ff0000" stroke-width="5"/>
<line x1="998.12" y1="941.35" x2="1010.12" y2="941.35" stroke="#ff0000" stroke-width="5"/>
<rect x="998.52" y="918.31" width="11.2" height="10.8" fill="#ff0000"/>
<line x1="1068.17" y1="914.89" x2="1068.17" y2="965.8" stroke="#ff0000" stroke-width="4.4"/>
<line x1="1062.17" y1="914.89" x2="1074.17" y2="914.89" stroke="#ff0000" stroke-width="5"/>
<line x1="1062.17" y1="965.8" x2="1074.17" y2="965.8" stroke="#ff0000" stroke-width="5"/>
<rect x="1062.57" y="933.94" width="11.2" height="10.8" fill="#ff0000"/>
<line x1="1146.8" y1="762.18" x2="1146.8" y2="874.07" stroke="#ff0000" stroke-width="4.4"/>
<line x1="1140.8" y1="762.18" x2="1152.8" y2="762.18" stroke="#ff0000" stroke-width="5"/>
<line x1="1140.8" y1="874.07" x2="1152.8" y2="874.07" stroke="#ff0000" stroke-width="5"/>
<rect x="1141.2" y="812.98" width="11.2" height="10.8" fill="#ff0000"/>
<line x1="1209.97" y1="947.15" x2="1209.97" y2="958.74" stroke="#ff0000" stroke-width="4.4"/>
<line x1="1203.97" y1="947.15" x2="1215.97" y2="947.15" stroke="#ff0000" stroke-width="5"/>
<line x1="1203.97" y1="958.74" x2="1215.97" y2="958.74" stroke="#ff0000" stroke-width="5"/>
<rect x="1204.37" y="947.54" width="11.2" height="10.8" fill="#ff0000"/>
<line x1="1263.18" y1="919.93" x2="1263.18" y2="951.94" stroke="#ff0000" stroke-width="4.4"/>
<line x1="1257.18" y1="919.93" x2="1269.18" y2="919.93" stroke="#ff0000" stroke-width="5"/>
<line x1="1257.18" y1="951.94" x2="1269.18" y2="951.94" stroke="#ff0000" stroke-width="5"/>
<rect x="1257.58" y="928.9" width="11.2" height="10.8" fill="#ff0000"/>
<line x1="1448.07" y1="938.58" x2="1448.07" y2="943.12" stroke="#ff0000" stroke-width="4.4"/>
<line x1="1442.07" y1="938.58" x2="1454.07" y2="938.58" stroke="#ff0000" stroke-width="5"/>
<line x1="1442.07" y1="943.12" x2="1454.07" y2="943.12" stroke="#ff0000" stroke-width="5"/>
<rect x="1442.47" y="935.45" width="11.2" height="10.8" fill="#ff0000"/>
<polyline points="815.65,946.14 1004.12,942.86 1068.17,944.63 1146.8,940.34 1209.97,944.12 1263.18,940.34 1448.07,946.39" fill="none" stroke="#0000ff" stroke-width="4.2" stroke-linejoin="round"/>
<line x1="815.65" y1="937.82" x2="815.65" y2="954.96" stroke="#0000ff" stroke-width="4.4"/>
<line x1="809.65" y1="937.82" x2="821.65" y2="937.82" stroke="#0000ff" stroke-width="5"/>
<line x1="809.65" y1="954.96" x2="821.65" y2="954.96" stroke="#0000ff" stroke-width="5"/>
<path d="M815.65 939.64 L821.85 950.64 L809.45 950.64 Z" fill="#0000ff"/>
<line x1="1004.12" y1="935.56" x2="1004.12" y2="950.17" stroke="#0000ff" stroke-width="4.4"/>
<line x1="998.12" y1="935.56" x2="1010.12" y2="935.56" stroke="#0000ff" stroke-width="5"/>
<line x1="998.12" y1="950.17" x2="1010.12" y2="950.17" stroke="#0000ff" stroke-width="5"/>
<path d="M1004.12 936.36 L1010.32 947.36 L997.92 947.36 Z" fill="#0000ff"/>
<line x1="1068.17" y1="937.82" x2="1068.17" y2="952.19" stroke="#0000ff" stroke-width="4.4"/>
<line x1="1062.17" y1="937.82" x2="1074.17" y2="937.82" stroke="#0000ff" stroke-width="5"/>
<line x1="1062.17" y1="952.19" x2="1074.17" y2="952.19" stroke="#0000ff" stroke-width="5"/>
<path d="M1068.17 938.13 L1074.37 949.13 L1061.97 949.13 Z" fill="#0000ff"/>
<line x1="1146.8" y1="917.66" x2="1146.8" y2="961.51" stroke="#0000ff" stroke-width="4.4"/>
<line x1="1140.8" y1="917.66" x2="1152.8" y2="917.66" stroke="#0000ff" stroke-width="5"/>
<line x1="1140.8" y1="961.51" x2="1152.8" y2="961.51" stroke="#0000ff" stroke-width="5"/>
<path d="M1146.8 933.84 L1153 944.84 L1140.6 944.84 Z" fill="#0000ff"/>
<line x1="1209.97" y1="942.11" x2="1209.97" y2="946.14" stroke="#0000ff" stroke-width="4.4"/>
<line x1="1203.97" y1="942.11" x2="1215.97" y2="942.11" stroke="#0000ff" stroke-width="5"/>
<line x1="1203.97" y1="946.14" x2="1215.97" y2="946.14" stroke="#0000ff" stroke-width="5"/>
<path d="M1209.97 937.62 L1216.17 948.62 L1203.77 948.62 Z" fill="#0000ff"/>
<line x1="1263.18" y1="934.3" x2="1263.18" y2="947.4" stroke="#0000ff" stroke-width="4.4"/>
<line x1="1257.18" y1="934.3" x2="1269.18" y2="934.3" stroke="#0000ff" stroke-width="5"/>
<line x1="1257.18" y1="947.4" x2="1269.18" y2="947.4" stroke="#0000ff" stroke-width="5"/>
<path d="M1263.18 933.84 L1269.38 944.84 L1256.98 944.84 Z" fill="#0000ff"/>
<line x1="1448.07" y1="941.1" x2="1448.07" y2="951.43" stroke="#0000ff" stroke-width="4.4"/>
<line x1="1442.07" y1="941.1" x2="1454.07" y2="941.1" stroke="#0000ff" stroke-width="5"/>
<line x1="1442.07" y1="951.43" x2="1454.07" y2="951.43" stroke="#0000ff" stroke-width="5"/>
<path d="M1448.07 939.89 L1454.27 950.89 L1441.87 950.89 Z" fill="#0000ff"/>
<line x1="775" y1="586.45" x2="775" y2="968.15" stroke="#000" stroke-width="3.7"/>
<line x1="764.2" y1="966.3" x2="775" y2="966.3" stroke="#000" stroke-width="3.7"/>
<text x="759" y="970.6" font-size="17.5" text-anchor="end">0</text>
<line x1="764.2" y1="840.3" x2="775" y2="840.3" stroke="#000" stroke-width="3.7"/>
<text x="759" y="844.6" font-size="17.5" text-anchor="end">5</text>
<line x1="764.2" y1="714.3" x2="775" y2="714.3" stroke="#000" stroke-width="3.7"/>
<text x="759" y="718.6" font-size="17.5" text-anchor="end">10</text>
<line x1="764.2" y1="588.3" x2="775" y2="588.3" stroke="#000" stroke-width="3.7"/>
<text x="759" y="592.6" font-size="17.5" text-anchor="end">15</text>
<line x1="765.7" y1="966.3" x2="1520.8" y2="966.3" stroke="#000" stroke-width="3.7"/>
<line x1="775.22" y1="966.3" x2="775.22" y2="976.8" stroke="#000" stroke-width="3.9"/>
<text x="772.72" y="1001.4" font-size="17.5" text-anchor="middle">-2500</text>
<line x1="849.54" y1="966.3" x2="849.54" y2="976.8" stroke="#000" stroke-width="3.9"/>
<text x="847.04" y="1001.4" font-size="17.5" text-anchor="middle">-2000</text>
<line x1="923.85" y1="966.3" x2="923.85" y2="976.8" stroke="#000" stroke-width="3.9"/>
<text x="921.35" y="1001.4" font-size="17.5" text-anchor="middle">-1500</text>
<line x1="998.17" y1="966.3" x2="998.17" y2="976.8" stroke="#000" stroke-width="3.9"/>
<text x="995.67" y="1001.4" font-size="17.5" text-anchor="middle">-1000</text>
<line x1="1072.48" y1="966.3" x2="1072.48" y2="976.8" stroke="#000" stroke-width="3.9"/>
<text x="1069.98" y="1001.4" font-size="17.5" text-anchor="middle">-500</text>
<line x1="1146.8" y1="966.3" x2="1146.8" y2="976.8" stroke="#000" stroke-width="3.9"/>
<text x="1146.8" y="1001.4" font-size="17.5" text-anchor="middle">0</text>
<line x1="1221.12" y1="966.3" x2="1221.12" y2="976.8" stroke="#000" stroke-width="3.9"/>
<text x="1221.12" y="1001.4" font-size="17.5" text-anchor="middle">500</text>
<line x1="1295.43" y1="966.3" x2="1295.43" y2="976.8" stroke="#000" stroke-width="3.9"/>
<text x="1295.43" y="1001.4" font-size="17.5" text-anchor="middle">1000</text>
<line x1="1369.74" y1="966.3" x2="1369.74" y2="976.8" stroke="#000" stroke-width="3.9"/>
<text x="1369.74" y="1001.4" font-size="17.5" text-anchor="middle">1500</text>
<line x1="1444.06" y1="966.3" x2="1444.06" y2="976.8" stroke="#000" stroke-width="3.9"/>
<text x="1444.06" y="1001.4" font-size="17.5" text-anchor="middle">2000</text>
<line x1="1518.38" y1="966.3" x2="1518.38" y2="976.8" stroke="#000" stroke-width="3.9"/>
<text x="1518.38" y="1001.4" font-size="17.5" text-anchor="middle">2500</text>
<text x="703.4" y="780.5" font-size="18" text-anchor="middle" textLength="143.5" lengthAdjust="spacingAndGlyphs" transform="rotate(-90 703.4 780.5)">Fold enrichment</text>
<text x="729.9" y="780.5" font-size="18" text-anchor="middle" textLength="118.5" lengthAdjust="spacingAndGlyphs" transform="rotate(-90 729.9 780.5)">of Faire/input</text>
<line x1="1377.3" y1="617.5" x2="1418.1" y2="617.5" stroke="#000" stroke-width="4.2"/>
<circle cx="1397.7" cy="617.5" r="5.2" fill="#000"/>
<text x="1441.3" y="624" font-size="17" textLength="40" lengthAdjust="spacingAndGlyphs">U937</text>
<line x1="1377.3" y1="661" x2="1418.1" y2="661" stroke="#ff0000" stroke-width="4.2"/>
<rect x="1392.1" y="655.6" width="11.2" height="10.8" fill="#ff0000"/>
<text x="1441.3" y="667.7" font-size="17" textLength="27" lengthAdjust="spacingAndGlyphs">Raji</text>
<line x1="1377.3" y1="703.7" x2="1418.1" y2="703.7" stroke="#0000ff" stroke-width="4.2"/>
<path d="M1397.7 697.2 L1403.9 708.7 L1391.5 708.7 Z" fill="#0000ff"/>
<text x="1441.3" y="711.3" font-size="17" textLength="47" lengthAdjust="spacingAndGlyphs">Jurkat</text>
<text x="581.2" y="1096.8" font-size="27" font-weight="bold" textLength="13.04" lengthAdjust="spacingAndGlyphs">h</text>
<text x="934.46" y="1096.8" font-size="27" font-weight="bold" textLength="6.08" lengthAdjust="spacingAndGlyphs">i</text>
<text x="1291.36" y="1096.8" font-size="27" font-weight="bold" textLength="6.75" lengthAdjust="spacingAndGlyphs">j</text>
<circle cx="727.6" cy="1292.8" r="7.7" fill="#000"/>
<circle cx="727.6" cy="1324.7" r="7.7" fill="#000"/>
<circle cx="705" cy="1439" r="7.7" fill="#000"/>
<circle cx="727.6" cy="1455" r="7.7" fill="#000"/>
<circle cx="750" cy="1448.4" r="7.7" fill="#000"/>
<rect x="839" y="1422" width="15.4" height="15.4" fill="#ff0000"/>
<rect x="839" y="1508.3" width="15.4" height="15.4" fill="#ff0000"/>
<rect x="827.6" y="1529.7" width="15.4" height="15.4" fill="#ff0000"/>
<rect x="850.2" y="1536.3" width="15.4" height="15.4" fill="#ff0000"/>
<rect x="839" y="1560.3" width="15.4" height="15.4" fill="#ff0000"/>
<line x1="727.6" y1="1357" x2="727.6" y2="1426.3" stroke="#000" stroke-width="5.8"/>
<line x1="708" y1="1357" x2="747.2" y2="1357" stroke="#000" stroke-width="5.5"/>
<line x1="708" y1="1426.3" x2="747.2" y2="1426.3" stroke="#000" stroke-width="5.5"/>
<line x1="688.3" y1="1391.7" x2="766.9" y2="1391.7" stroke="#000" stroke-width="3.9"/>
<line x1="846.7" y1="1495.4" x2="846.7" y2="1542" stroke="#ff0000" stroke-width="5.8"/>
<line x1="827.1" y1="1495.4" x2="866.3" y2="1495.4" stroke="#ff0000" stroke-width="5.5"/>
<line x1="827.1" y1="1542" x2="866.3" y2="1542" stroke="#ff0000" stroke-width="5.5"/>
<line x1="807.4" y1="1518.8" x2="886" y2="1518.8" stroke="#000" stroke-width="3.9"/>
<line x1="669" y1="1212.45" x2="669" y2="1594.15" stroke="#000" stroke-width="3.7"/>
<line x1="658.5" y1="1592.3" x2="669" y2="1592.3" stroke="#000" stroke-width="3.7"/>
<text x="654.5" y="1596.6" font-size="17.5" text-anchor="end">0.0</text>
<line x1="658.5" y1="1497.8" x2="669" y2="1497.8" stroke="#000" stroke-width="3.7"/>
<text x="654.5" y="1502.1" font-size="17.5" text-anchor="end">0.5</text>
<line x1="658.5" y1="1403.3" x2="669" y2="1403.3" stroke="#000" stroke-width="3.7"/>
<text x="654.5" y="1407.6" font-size="17.5" text-anchor="end">1.0</text>
<line x1="658.5" y1="1308.8" x2="669" y2="1308.8" stroke="#000" stroke-width="3.7"/>
<text x="654.5" y="1313.1" font-size="17.5" text-anchor="end">1.5</text>
<line x1="658.5" y1="1214.3" x2="669" y2="1214.3" stroke="#000" stroke-width="3.7"/>
<text x="654.5" y="1218.6" font-size="17.5" text-anchor="end">2.0</text>
<line x1="658.5" y1="1592.3" x2="908.4" y2="1592.3" stroke="#000" stroke-width="3.7"/>
<line x1="727.6" y1="1592.3" x2="727.6" y2="1603.8" stroke="#000" stroke-width="4.1"/>
<line x1="846.7" y1="1592.3" x2="846.7" y2="1603.8" stroke="#000" stroke-width="4.1"/>
<path d="M734.7 1229.5 V1212.2 H846.7 V1229.5" fill="none" stroke="#000" stroke-width="3.7"/>
<text x="785.5" y="1201.5" font-size="16" text-anchor="middle" font-weight="bold">**</text>
<text x="770" y="1144.4" font-size="17.5" text-anchor="middle" textLength="61" lengthAdjust="spacingAndGlyphs">CD14+</text>
<text x="770" y="1169" font-size="17.5" text-anchor="middle" textLength="161" lengthAdjust="spacingAndGlyphs">Monocytes <tspan font-style="italic">in vitro</tspan></text>
<text x="591" y="1407.5" font-size="18" text-anchor="middle" textLength="86.8" lengthAdjust="spacingAndGlyphs" transform="rotate(-90 591 1407.5)">miR-146a</text>
<text x="613.5" y="1407.5" font-size="17.6" text-anchor="middle" textLength="162" lengthAdjust="spacingAndGlyphs" transform="rotate(-90 613.5 1407.5)">relative expression</text>
<text x="733.3" y="1621" font-size="19" text-anchor="end" transform="rotate(-45 733.3 1621)">WTs</text>
<text x="853.8" y="1620.1" font-size="19" text-anchor="end" textLength="76" lengthAdjust="spacingAndGlyphs" transform="rotate(-45 853.8 1620.1)">Deletions</text>
<circle cx="1086.8" cy="1352.6" r="7.7" fill="#000"/>
<circle cx="1075" cy="1380" r="7.7" fill="#000"/>
<circle cx="1097.7" cy="1393.8" r="7.7" fill="#000"/>
<circle cx="1097.7" cy="1437.7" r="7.7" fill="#000"/>
<circle cx="1075" cy="1451" r="7.7" fill="#000"/>
<rect x="1198.3" y="1335.6" width="15.4" height="15.4" fill="#ff0000"/>
<rect x="1198.3" y="1377.6" width="15.4" height="15.4" fill="#ff0000"/>
<rect x="1198.3" y="1416.2" width="15.4" height="15.4" fill="#ff0000"/>
<rect x="1209.3" y="1453.9" width="15.4" height="15.4" fill="#ff0000"/>
<rect x="1186.3" y="1479.3" width="15.4" height="15.4" fill="#ff0000"/>
<line x1="1086.8" y1="1384.5" x2="1086.8" y2="1421.2" stroke="#000" stroke-width="5.8"/>
<line x1="1067.4" y1="1384.5" x2="1106.2" y2="1384.5" stroke="#000" stroke-width="5.5"/>
<line x1="1067.4" y1="1421.2" x2="1106.2" y2="1421.2" stroke="#000" stroke-width="5.5"/>
<line x1="1047.5" y1="1403" x2="1126.1" y2="1403" stroke="#000" stroke-width="3.9"/>
<line x1="1206" y1="1393.8" x2="1206" y2="1444.4" stroke="#ff0000" stroke-width="5.8"/>
<line x1="1186.6" y1="1393.8" x2="1225.4" y2="1393.8" stroke="#ff0000" stroke-width="5.5"/>
<line x1="1186.6" y1="1444.4" x2="1225.4" y2="1444.4" stroke="#ff0000" stroke-width="5.5"/>
<line x1="1166.7" y1="1419" x2="1245.3" y2="1419" stroke="#000" stroke-width="3.9"/>
<line x1="1027.7" y1="1219.95" x2="1027.7" y2="1601.75" stroke="#000" stroke-width="3.7"/>
<line x1="1017.2" y1="1599.9" x2="1027.7" y2="1599.9" stroke="#000" stroke-width="3.7"/>
<text x="1014" y="1604.2" font-size="17.5" text-anchor="end">0.0</text>
<line x1="1017.2" y1="1505.38" x2="1027.7" y2="1505.38" stroke="#000" stroke-width="3.7"/>
<text x="1014" y="1509.67" font-size="17.5" text-anchor="end">0.5</text>
<line x1="1017.2" y1="1410.85" x2="1027.7" y2="1410.85" stroke="#000" stroke-width="3.7"/>
<text x="1014" y="1415.15" font-size="17.5" text-anchor="end">1.0</text>
<line x1="1017.2" y1="1316.33" x2="1027.7" y2="1316.33" stroke="#000" stroke-width="3.7"/>
<text x="1014" y="1320.62" font-size="17.5" text-anchor="end">1.5</text>
<line x1="1017.2" y1="1221.8" x2="1027.7" y2="1221.8" stroke="#000" stroke-width="3.7"/>
<text x="1014" y="1226.1" font-size="17.5" text-anchor="end">2.0</text>
<line x1="1017.2" y1="1599.9" x2="1267" y2="1599.9" stroke="#000" stroke-width="3.7"/>
<line x1="1086.8" y1="1599.9" x2="1086.8" y2="1611.4" stroke="#000" stroke-width="4.1"/>
<line x1="1206" y1="1599.9" x2="1206" y2="1611.4" stroke="#000" stroke-width="4.1"/>
<path d="M1087.6 1242.8 V1225.5 H1207.2 V1242.8" fill="none" stroke="#000" stroke-width="3.7"/>
<text x="1139.4" y="1213" font-size="17.5" text-anchor="middle" textLength="19.5" lengthAdjust="spacingAndGlyphs">ns</text>
<text x="1147.4" y="1144.4" font-size="17.5" text-anchor="middle" textLength="60.3" lengthAdjust="spacingAndGlyphs">CD19+</text>
<text x="1147.4" y="1169" font-size="17.5" text-anchor="middle" textLength="126" lengthAdjust="spacingAndGlyphs">B cells <tspan font-style="italic">in vitro</tspan></text>
<text x="948.8" y="1414" font-size="18" text-anchor="middle" textLength="86.8" lengthAdjust="spacingAndGlyphs" transform="rotate(-90 948.8 1414)">miR-146a</text>
<text x="971.3" y="1414" font-size="17.6" text-anchor="middle" textLength="162" lengthAdjust="spacingAndGlyphs" transform="rotate(-90 971.3 1414)">relative expression</text>
<text x="1091.2" y="1626.4" font-size="19" text-anchor="end" transform="rotate(-45 1091.2 1626.4)">WTs</text>
<text x="1212" y="1626.8" font-size="19" text-anchor="end" textLength="76" lengthAdjust="spacingAndGlyphs" transform="rotate(-45 1212 1626.8)">Deletions</text>
<circle cx="1438" cy="1287" r="7.7" fill="#000"/>
<circle cx="1438" cy="1385.9" r="7.7" fill="#000"/>
<circle cx="1415.7" cy="1443.6" r="7.7" fill="#000"/>
<circle cx="1438" cy="1455" r="7.7" fill="#000"/>
<circle cx="1461" cy="1452.3" r="7.7" fill="#000"/>
<rect x="1560.7" y="1292.3" width="15.4" height="15.4" fill="#ff0000"/>
<rect x="1538.1" y="1308.3" width="15.4" height="15.4" fill="#ff0000"/>
<rect x="1538.1" y="1398.1" width="15.4" height="15.4" fill="#ff0000"/>
<rect x="1560.7" y="1412.7" width="15.4" height="15.4" fill="#ff0000"/>
<rect x="1549.5" y="1460.6" width="15.4" height="15.4" fill="#ff0000"/>
<line x1="1438" y1="1372.5" x2="1438" y2="1436.4" stroke="#000" stroke-width="5.8"/>
<line x1="1418.6" y1="1372.5" x2="1457.4" y2="1372.5" stroke="#000" stroke-width="5.5"/>
<line x1="1418.6" y1="1436.4" x2="1457.4" y2="1436.4" stroke="#000" stroke-width="5.5"/>
<line x1="1398.7" y1="1404.5" x2="1477.3" y2="1404.5" stroke="#000" stroke-width="3.9"/>
<line x1="1557.2" y1="1350" x2="1557.2" y2="1413.8" stroke="#ff0000" stroke-width="5.8"/>
<line x1="1537.8" y1="1350" x2="1576.6" y2="1350" stroke="#ff0000" stroke-width="5.5"/>
<line x1="1537.8" y1="1413.8" x2="1576.6" y2="1413.8" stroke="#ff0000" stroke-width="5.5"/>
<line x1="1517.9" y1="1381.9" x2="1596.5" y2="1381.9" stroke="#000" stroke-width="3.9"/>
<line x1="1379" y1="1223.65" x2="1379" y2="1605.35" stroke="#000" stroke-width="3.7"/>
<line x1="1368.5" y1="1603.5" x2="1379" y2="1603.5" stroke="#000" stroke-width="3.7"/>
<text x="1365.5" y="1607.8" font-size="17.5" text-anchor="end">0.0</text>
<line x1="1368.5" y1="1509" x2="1379" y2="1509" stroke="#000" stroke-width="3.7"/>
<text x="1365.5" y="1513.3" font-size="17.5" text-anchor="end">0.5</text>
<line x1="1368.5" y1="1414.5" x2="1379" y2="1414.5" stroke="#000" stroke-width="3.7"/>
<text x="1365.5" y="1418.8" font-size="17.5" text-anchor="end">1.0</text>
<line x1="1368.5" y1="1320" x2="1379" y2="1320" stroke="#000" stroke-width="3.7"/>
<text x="1365.5" y="1324.3" font-size="17.5" text-anchor="end">1.5</text>
<line x1="1368.5" y1="1225.5" x2="1379" y2="1225.5" stroke="#000" stroke-width="3.7"/>
<text x="1365.5" y="1229.8" font-size="17.5" text-anchor="end">2.0</text>
<line x1="1368.5" y1="1603.5" x2="1619" y2="1603.5" stroke="#000" stroke-width="3.7"/>
<line x1="1438" y1="1603.5" x2="1438" y2="1615" stroke="#000" stroke-width="4.1"/>
<line x1="1557.2" y1="1603.5" x2="1557.2" y2="1615" stroke="#000" stroke-width="4.1"/>
<path d="M1439.4 1244 V1227.6 H1560.7 V1244" fill="none" stroke="#000" stroke-width="3.7"/>
<text x="1490.7" y="1209.5" font-size="17.5" text-anchor="middle" textLength="19.5" lengthAdjust="spacingAndGlyphs">ns</text>
<text x="1493.4" y="1144.4" font-size="17.5" text-anchor="middle" textLength="48.8" lengthAdjust="spacingAndGlyphs">CD3+</text>
<text x="1493.4" y="1169" font-size="17.5" text-anchor="middle" textLength="125.5" lengthAdjust="spacingAndGlyphs">T cells <tspan font-style="italic">in vitro</tspan></text>
<text x="1291.3" y="1417" font-size="18" text-anchor="middle" textLength="86.8" lengthAdjust="spacingAndGlyphs" transform="rotate(-90 1291.3 1417)">miR-146a</text>
<text x="1313.5" y="1417" font-size="17.6" text-anchor="middle" textLength="162" lengthAdjust="spacingAndGlyphs" transform="rotate(-90 1313.5 1417)">relative expression</text>
<text x="1443.4" y="1629" font-size="19" text-anchor="end" transform="rotate(-45 1443.4 1629)">WTs</text>
<text x="1563.9" y="1630.7" font-size="19" text-anchor="end" textLength="76" lengthAdjust="spacingAndGlyphs" transform="rotate(-45 1563.9 1630.7)">Deletions</text>
<text x="581.21" y="1859.8" font-size="27" font-weight="bold" textLength="6.29" lengthAdjust="spacingAndGlyphs">l</text>
<text x="931.45" y="1859.9" font-size="27" font-weight="bold" textLength="19.32" lengthAdjust="spacingAndGlyphs">m</text>
<text x="1287.6" y="1859.9" font-size="27" font-weight="bold" textLength="13.7" lengthAdjust="spacingAndGlyphs">n</text>
<circle cx="710.3" cy="2039.4" r="7.7" fill="#000"/>
<circle cx="710.3" cy="2175.8" r="7.7" fill="#000"/>
<circle cx="687" cy="2223.3" r="7.7" fill="#000"/>
<circle cx="732.4" cy="2222.7" r="7.7" fill="#000"/>
<circle cx="710.3" cy="2236.4" r="7.7" fill="#000"/>
<circle cx="710.3" cy="2268.2" r="7.7" fill="#000"/>
<rect x="821.1" y="2218.1" width="15.4" height="15.4" fill="#ff0000"/>
<rect x="821.1" y="2264.1" width="15.4" height="15.4" fill="#ff0000"/>
<rect x="792" y="2315" width="15.4" height="15.4" fill="#ff0000"/>
<rect x="850.5" y="2311.3" width="15.4" height="15.4" fill="#ff0000"/>
<rect x="830.8" y="2322" width="15.4" height="15.4" fill="#ff0000"/>
<rect x="811.1" y="2329.3" width="15.4" height="15.4" fill="#ff0000"/>
<line x1="710.3" y1="2160.6" x2="710.3" y2="2227.3" stroke="#000" stroke-width="5.8"/>
<line x1="690.8" y1="2160.6" x2="729.8" y2="2160.6" stroke="#000" stroke-width="5.5"/>
<line x1="690.8" y1="2227.3" x2="729.8" y2="2227.3" stroke="#000" stroke-width="5.5"/>
<line x1="671" y1="2194" x2="749.6" y2="2194" stroke="#000" stroke-width="3.9"/>
<line x1="828.8" y1="2284" x2="828.8" y2="2319" stroke="#ff0000" stroke-width="5.8"/>
<line x1="809.3" y1="2284" x2="848.3" y2="2284" stroke="#ff0000" stroke-width="5.5"/>
<line x1="809.3" y1="2319" x2="848.3" y2="2319" stroke="#ff0000" stroke-width="5.5"/>
<line x1="789.5" y1="2302" x2="868.1" y2="2302" stroke="#000" stroke-width="3.9"/>
<line x1="651.2" y1="1959.35" x2="651.2" y2="2341.25" stroke="#000" stroke-width="3.7"/>
<line x1="640.7" y1="2339.4" x2="651.2" y2="2339.4" stroke="#000" stroke-width="3.7"/>
<text x="638" y="2343.7" font-size="17.5" text-anchor="end">0</text>
<line x1="640.7" y1="2213.33" x2="651.2" y2="2213.33" stroke="#000" stroke-width="3.7"/>
<text x="638" y="2217.63" font-size="17.5" text-anchor="end">1</text>
<line x1="640.7" y1="2087.27" x2="651.2" y2="2087.27" stroke="#000" stroke-width="3.7"/>
<text x="638" y="2091.57" font-size="17.5" text-anchor="end">2</text>
<line x1="640.7" y1="1961.2" x2="651.2" y2="1961.2" stroke="#000" stroke-width="3.7"/>
<text x="638" y="1965.5" font-size="17.5" text-anchor="end">3</text>
<line x1="640.7" y1="2339.4" x2="890.6" y2="2339.4" stroke="#000" stroke-width="3.7"/>
<line x1="710.3" y1="2339.4" x2="710.3" y2="2350.9" stroke="#000" stroke-width="4.1"/>
<line x1="828.8" y1="2339.4" x2="828.8" y2="2350.9" stroke="#000" stroke-width="4.1"/>
<path d="M722.7 1978.2 V1960.6 H847.6 V1978.2" fill="none" stroke="#000" stroke-width="3.7"/>
<text x="779.4" y="1954" font-size="16" text-anchor="middle" font-weight="bold">*</text>
<text x="778.5" y="1886.4" font-size="17.5" text-anchor="middle" textLength="60" lengthAdjust="spacingAndGlyphs">CD14+</text>
<text x="778.5" y="1910.6" font-size="17.5" text-anchor="middle" textLength="159.5" lengthAdjust="spacingAndGlyphs">Monocytes <tspan font-style="italic">in vivo</tspan></text>
<text x="590" y="2154.5" font-size="18" text-anchor="middle" textLength="86.8" lengthAdjust="spacingAndGlyphs" transform="rotate(-90 590 2154.5)">miR-146a</text>
<text x="612.5" y="2154.5" font-size="17.6" text-anchor="middle" textLength="162" lengthAdjust="spacingAndGlyphs" transform="rotate(-90 612.5 2154.5)">relative expression</text>
<text x="716.2" y="2370" font-size="19" text-anchor="end" transform="rotate(-45 716.2 2370)">WTs</text>
<text x="835.2" y="2368.9" font-size="19" text-anchor="end" textLength="76" lengthAdjust="spacingAndGlyphs" transform="rotate(-45 835.2 2368.9)">Deletions</text>
<circle cx="1077.3" cy="2090.3" r="7.7" fill="#000"/>
<circle cx="1100" cy="2141" r="7.7" fill="#000"/>
<circle cx="1054.5" cy="2153" r="7.7" fill="#000"/>
<circle cx="1077.3" cy="2157.6" r="7.7" fill="#000"/>
<circle cx="1065.8" cy="2253.6" r="7.7" fill="#000"/>
<circle cx="1088.5" cy="2253" r="7.7" fill="#000"/>
<rect x="1188.7" y="1989.9" width="15.4" height="15.4" fill="#ff0000"/>
<rect x="1199.3" y="2122.6" width="15.4" height="15.4" fill="#ff0000"/>
<rect x="1176.5" y="2142.3" width="15.4" height="15.4" fill="#ff0000"/>
<rect x="1176.5" y="2214.1" width="15.4" height="15.4" fill="#ff0000"/>
<rect x="1199.3" y="2227.8" width="15.4" height="15.4" fill="#ff0000"/>
<rect x="1188.7" y="2265.6" width="15.4" height="15.4" fill="#ff0000"/>
<line x1="1077.3" y1="2147" x2="1077.3" y2="2201.5" stroke="#000" stroke-width="5.8"/>
<line x1="1057.9" y1="2147" x2="1096.7" y2="2147" stroke="#000" stroke-width="5.5"/>
<line x1="1057.9" y1="2201.5" x2="1096.7" y2="2201.5" stroke="#000" stroke-width="5.5"/>
<line x1="1038" y1="2174.8" x2="1116.6" y2="2174.8" stroke="#000" stroke-width="3.9"/>
<line x1="1196.4" y1="2127.3" x2="1196.4" y2="2208.5" stroke="#ff0000" stroke-width="5.8"/>
<line x1="1177" y1="2127.3" x2="1215.8" y2="2127.3" stroke="#ff0000" stroke-width="5.5"/>
<line x1="1177" y1="2208.5" x2="1215.8" y2="2208.5" stroke="#ff0000" stroke-width="5.5"/>
<line x1="1157.1" y1="2168.2" x2="1235.7" y2="2168.2" stroke="#000" stroke-width="3.9"/>
<line x1="1018.2" y1="1961.15" x2="1018.2" y2="2342.85" stroke="#000" stroke-width="3.7"/>
<line x1="1007.7" y1="2341" x2="1018.2" y2="2341" stroke="#000" stroke-width="3.7"/>
<text x="1005.5" y="2345.3" font-size="17.5" text-anchor="end">0.0</text>
<line x1="1007.7" y1="2265.4" x2="1018.2" y2="2265.4" stroke="#000" stroke-width="3.7"/>
<text x="1005.5" y="2269.7" font-size="17.5" text-anchor="end">0.5</text>
<line x1="1007.7" y1="2189.8" x2="1018.2" y2="2189.8" stroke="#000" stroke-width="3.7"/>
<text x="1005.5" y="2194.1" font-size="17.5" text-anchor="end">1.0</text>
<line x1="1007.7" y1="2114.2" x2="1018.2" y2="2114.2" stroke="#000" stroke-width="3.7"/>
<text x="1005.5" y="2118.5" font-size="17.5" text-anchor="end">1.5</text>
<line x1="1007.7" y1="2038.6" x2="1018.2" y2="2038.6" stroke="#000" stroke-width="3.7"/>
<text x="1005.5" y="2042.9" font-size="17.5" text-anchor="end">2.0</text>
<line x1="1007.7" y1="1963" x2="1018.2" y2="1963" stroke="#000" stroke-width="3.7"/>
<text x="1005.5" y="1967.3" font-size="17.5" text-anchor="end">2.5</text>
<line x1="1007.7" y1="2341" x2="1257.6" y2="2341" stroke="#000" stroke-width="3.7"/>
<line x1="1077.3" y1="2341" x2="1077.3" y2="2352.5" stroke="#000" stroke-width="4.1"/>
<line x1="1196.4" y1="2341" x2="1196.4" y2="2352.5" stroke="#000" stroke-width="4.1"/>
<path d="M1061.5 1985.5 V1967.6 H1192.4 V1985.5" fill="none" stroke="#000" stroke-width="3.7"/>
<text x="1124.8" y="1954.5" font-size="17.5" text-anchor="middle" textLength="19.5" lengthAdjust="spacingAndGlyphs">ns</text>
<text x="1122.7" y="1886.4" font-size="17.5" text-anchor="middle" textLength="60" lengthAdjust="spacingAndGlyphs">CD19+</text>
<text x="1122.7" y="1910.6" font-size="17.5" text-anchor="middle" textLength="123.7" lengthAdjust="spacingAndGlyphs">B cells <tspan font-style="italic">in vivo</tspan></text>
<text x="939.5" y="2154" font-size="18" text-anchor="middle" textLength="86.8" lengthAdjust="spacingAndGlyphs" transform="rotate(-90 939.5 2154)">miR-146a</text>
<text x="962" y="2154" font-size="17.6" text-anchor="middle" textLength="162" lengthAdjust="spacingAndGlyphs" transform="rotate(-90 962 2154)">relative expression</text>
<text x="1082.8" y="2371.6" font-size="19" text-anchor="end" transform="rotate(-45 1082.8 2371.6)">WTs</text>
<text x="1202.8" y="2370.4" font-size="19" text-anchor="end" textLength="76" lengthAdjust="spacingAndGlyphs" transform="rotate(-45 1202.8 2370.4)">Deletions</text>
<circle cx="1436.9" cy="2043.3" r="7.7" fill="#000"/>
<circle cx="1425.7" cy="2114.2" r="7.7" fill="#000"/>
<circle cx="1448" cy="2129.7" r="7.7" fill="#000"/>
<circle cx="1436.9" cy="2226.7" r="7.7" fill="#000"/>
<circle cx="1436.9" cy="2253" r="7.7" fill="#000"/>
<circle cx="1436.9" cy="2290" r="7.7" fill="#000"/>
<rect x="1548.3" y="2102" width="15.4" height="15.4" fill="#ff0000"/>
<rect x="1525.5" y="2181.7" width="15.4" height="15.4" fill="#ff0000"/>
<rect x="1570.1" y="2175.6" width="15.4" height="15.4" fill="#ff0000"/>
<rect x="1548.3" y="2195.3" width="15.4" height="15.4" fill="#ff0000"/>
<rect x="1536.1" y="2286.3" width="15.4" height="15.4" fill="#ff0000"/>
<rect x="1559.5" y="2283.3" width="15.4" height="15.4" fill="#ff0000"/>
<line x1="1436.9" y1="2137" x2="1436.9" y2="2214.5" stroke="#000" stroke-width="5.8"/>
<line x1="1417.3" y1="2137" x2="1456.5" y2="2137" stroke="#000" stroke-width="5.5"/>
<line x1="1417.3" y1="2214.5" x2="1456.5" y2="2214.5" stroke="#000" stroke-width="5.5"/>
<line x1="1397.6" y1="2175.8" x2="1476.2" y2="2175.8" stroke="#000" stroke-width="3.9"/>
<line x1="1556" y1="2182.4" x2="1556" y2="2240.3" stroke="#ff0000" stroke-width="5.8"/>
<line x1="1536.4" y1="2182.4" x2="1575.6" y2="2182.4" stroke="#ff0000" stroke-width="5.5"/>
<line x1="1536.4" y1="2240.3" x2="1575.6" y2="2240.3" stroke="#ff0000" stroke-width="5.5"/>
<line x1="1516.7" y1="2211.5" x2="1595.3" y2="2211.5" stroke="#000" stroke-width="3.9"/>
<line x1="1377.8" y1="1972.35" x2="1377.8" y2="2354.25" stroke="#000" stroke-width="3.7"/>
<line x1="1367.3" y1="2352.4" x2="1377.8" y2="2352.4" stroke="#000" stroke-width="3.7"/>
<text x="1363.5" y="2356.7" font-size="17.5" text-anchor="end">0.0</text>
<line x1="1367.3" y1="2276.76" x2="1377.8" y2="2276.76" stroke="#000" stroke-width="3.7"/>
<text x="1363.5" y="2281.06" font-size="17.5" text-anchor="end">0.5</text>
<line x1="1367.3" y1="2201.12" x2="1377.8" y2="2201.12" stroke="#000" stroke-width="3.7"/>
<text x="1363.5" y="2205.42" font-size="17.5" text-anchor="end">1.0</text>
<line x1="1367.3" y1="2125.48" x2="1377.8" y2="2125.48" stroke="#000" stroke-width="3.7"/>
<text x="1363.5" y="2129.78" font-size="17.5" text-anchor="end">1.5</text>
<line x1="1367.3" y1="2049.84" x2="1377.8" y2="2049.84" stroke="#000" stroke-width="3.7"/>
<text x="1363.5" y="2054.14" font-size="17.5" text-anchor="end">2.0</text>
<line x1="1367.3" y1="1974.2" x2="1377.8" y2="1974.2" stroke="#000" stroke-width="3.7"/>
<text x="1363.5" y="1978.5" font-size="17.5" text-anchor="end">2.5</text>
<line x1="1367.3" y1="2352.4" x2="1617" y2="2352.4" stroke="#000" stroke-width="3.7"/>
<line x1="1436.9" y1="2352.4" x2="1436.9" y2="2363.9" stroke="#000" stroke-width="4.1"/>
<line x1="1556" y1="2352.4" x2="1556" y2="2363.9" stroke="#000" stroke-width="4.1"/>
<path d="M1426.3 1985.5 V1967.6 H1568.7 V1985.5" fill="none" stroke="#000" stroke-width="3.7"/>
<text x="1489.3" y="1957" font-size="17.5" text-anchor="middle" textLength="19.5" lengthAdjust="spacingAndGlyphs">ns</text>
<text x="1490" y="1886.4" font-size="17.5" text-anchor="middle" textLength="49" lengthAdjust="spacingAndGlyphs">CD3+</text>
<text x="1490" y="1910.6" font-size="17.5" text-anchor="middle" textLength="123" lengthAdjust="spacingAndGlyphs">T cells <tspan font-style="italic">in vivo</tspan></text>
<text x="1299" y="2163" font-size="18" text-anchor="middle" textLength="86.8" lengthAdjust="spacingAndGlyphs" transform="rotate(-90 1299 2163)">miR-146a</text>
<text x="1321.5" y="2163" font-size="17.6" text-anchor="middle" textLength="162" lengthAdjust="spacingAndGlyphs" transform="rotate(-90 1321.5 2163)">relative expression</text>
<text x="1442.4" y="2382.2" font-size="19" text-anchor="end" transform="rotate(-45 1442.4 2382.2)">WTs</text>
<text x="1562.4" y="2381" font-size="19" text-anchor="end" textLength="76" lengthAdjust="spacingAndGlyphs" transform="rotate(-45 1562.4 2381)">Deletions</text>
<defs>
<radialGradient id="gMono" cx="0.45" cy="0.4" r="0.6"><stop offset="0" stop-color="#fbe6b0"/><stop offset="1" stop-color="#edc468"/></radialGradient>
<radialGradient id="gTout" cx="0.5" cy="0.5" r="0.5"><stop offset="0.6" stop-color="#f3a860"/><stop offset="1" stop-color="#e07a28"/></radialGradient>
<radialGradient id="gTin" cx="0.5" cy="0.5" r="0.5"><stop offset="0" stop-color="#fbf7e6"/><stop offset="0.6" stop-color="#eeeccc"/><stop offset="0.85" stop-color="#7fb89a"/><stop offset="1" stop-color="#3f8f6c"/></radialGradient>
<radialGradient id="gB" cx="0.5" cy="0.45" r="0.6"><stop offset="0" stop-color="#fbdcc0"/><stop offset="1" stop-color="#f3b98a"/></radialGradient>
<radialGradient id="gBn" cx="0.5" cy="0.5" r="0.5"><stop offset="0" stop-color="#ffffff"/><stop offset="0.45" stop-color="#f4e6f2"/><stop offset="0.8" stop-color="#b060b0"/><stop offset="1" stop-color="#7a1a82"/></radialGradient>
<radialGradient id="gCas" cx="0.5" cy="0.5" r="0.55"><stop offset="0" stop-color="#ebe896"/><stop offset="1" stop-color="#e6e18a"/></radialGradient>
</defs>
<text x="-0.09" y="1097.3" font-size="27" font-weight="bold" textLength="13.34" lengthAdjust="spacingAndGlyphs">g</text>
<text x="141.2" y="1110" font-size="18" text-anchor="middle" textLength="88.8" lengthAdjust="spacingAndGlyphs">PBMCs from</text>
<text x="143.3" y="1131.7" font-size="18" text-anchor="middle" textLength="93.2" lengthAdjust="spacingAndGlyphs">human donor</text>
<line x1="134.1" y1="1140.6" x2="134.1" y2="1173.4" stroke="#000" stroke-width="2.5"/>
<path d="M130.9 1172.4 L137.3 1172.4 L134.1 1179.4 Z" fill="#000"/>
<line x1="49.3" y1="1183.6" x2="218.9" y2="1183.6" stroke="#000" stroke-width="4.5"/>
<line x1="50.5" y1="1183.6" x2="50.5" y2="1219.2" stroke="#000" stroke-width="2.5"/>
<path d="M46.9 1218.2 L54.1 1218.2 L50.5 1225.7 Z" fill="#000"/>
<line x1="134.1" y1="1183.6" x2="134.1" y2="1216.1" stroke="#000" stroke-width="2.5"/>
<path d="M130.5 1215.1 L137.7 1215.1 L134.1 1222.6 Z" fill="#000"/>
<line x1="218.9" y1="1183.6" x2="218.9" y2="1216.1" stroke="#000" stroke-width="2.5"/>
<path d="M215.3 1215.1 L222.5 1215.1 L218.9 1222.6 Z" fill="#000"/>
<g transform="translate(46 1241.1) rotate(0)">
<ellipse rx="11.7" ry="12" fill="url(#gMono)" stroke="#a49466" stroke-width="0.7"/>
<path transform="scale(1 1)" d="M-7.5,-5.5 C-6,-10 1,-10.5 5.5,-7 C9.5,-3.5 9.5,3 6.5,4.5 C4,5.5 3,1.5 0,0 C-3,-1.5 -8.5,-1 -7.5,-5.5 Z" fill="#4c9ccb" stroke="#b0587a" stroke-width="0.6"/>
<circle cx="-6" cy="5" r="0.55" fill="#d86a4a"/>
<circle cx="-3" cy="7" r="0.55" fill="#d86a4a"/>
<circle cx="0" cy="7.5" r="0.55" fill="#d86a4a"/>
<circle cx="3" cy="7" r="0.55" fill="#d86a4a"/>
<circle cx="-8" cy="1.5" r="0.55" fill="#d86a4a"/>
<circle cx="-5" cy="2" r="0.55" fill="#d86a4a"/>
</g>
<g transform="translate(73.3 1250.5) rotate(0)">
<ellipse rx="11.7" ry="12" fill="url(#gMono)" stroke="#a49466" stroke-width="0.7"/>
<path transform="scale(1 1)" d="M-7.5,-5.5 C-6,-10 1,-10.5 5.5,-7 C9.5,-3.5 9.5,3 6.5,4.5 C4,5.5 3,1.5 0,0 C-3,-1.5 -8.5,-1 -7.5,-5.5 Z" fill="#4c9ccb" stroke="#b0587a" stroke-width="0.6"/>
<circle cx="-6" cy="5" r="0.55" fill="#d86a4a"/>
<circle cx="-3" cy="7" r="0.55" fill="#d86a4a"/>
<circle cx="0" cy="7.5" r="0.55" fill="#d86a4a"/>
<circle cx="3" cy="7" r="0.55" fill="#d86a4a"/>
<circle cx="-8" cy="1.5" r="0.55" fill="#d86a4a"/>
<circle cx="-5" cy="2" r="0.55" fill="#d86a4a"/>
</g>
<g transform="translate(50.6 1268.7) rotate(0)">
<ellipse rx="11.7" ry="12" fill="url(#gMono)" stroke="#a49466" stroke-width="0.7"/>
<path transform="scale(1 1)" d="M-7.5,-5.5 C-6,-10 1,-10.5 5.5,-7 C9.5,-3.5 9.5,3 6.5,4.5 C4,5.5 3,1.5 0,0 C-3,-1.5 -8.5,-1 -7.5,-5.5 Z" fill="#4c9ccb" stroke="#b0587a" stroke-width="0.6"/>
<circle cx="-6" cy="5" r="0.55" fill="#d86a4a"/>
<circle cx="-3" cy="7" r="0.55" fill="#d86a4a"/>
<circle cx="0" cy="7.5" r="0.55" fill="#d86a4a"/>
<circle cx="3" cy="7" r="0.55" fill="#d86a4a"/>
<circle cx="-8" cy="1.5" r="0.55" fill="#d86a4a"/>
<circle cx="-5" cy="2" r="0.55" fill="#d86a4a"/>
</g>
<g transform="translate(77 1277.6) rotate(0)">
<ellipse rx="11.7" ry="12" fill="url(#gMono)" stroke="#a49466" stroke-width="0.7"/>
<path transform="scale(1 1)" d="M-7.5,-5.5 C-6,-10 1,-10.5 5.5,-7 C9.5,-3.5 9.5,3 6.5,4.5 C4,5.5 3,1.5 0,0 C-3,-1.5 -8.5,-1 -7.5,-5.5 Z" fill="#4c9ccb" stroke="#b0587a" stroke-width="0.6"/>
<circle cx="-6" cy="5" r="0.55" fill="#d86a4a"/>
<circle cx="-3" cy="7" r="0.55" fill="#d86a4a"/>
<circle cx="0" cy="7.5" r="0.55" fill="#d86a4a"/>
<circle cx="3" cy="7" r="0.55" fill="#d86a4a"/>
<circle cx="-8" cy="1.5" r="0.55" fill="#d86a4a"/>
<circle cx="-5" cy="2" r="0.55" fill="#d86a4a"/>
</g>
<g transform="translate(27.5 1289.5) rotate(0)">
<ellipse rx="11.7" ry="12" fill="url(#gMono)" stroke="#a49466" stroke-width="0.7"/>
<path transform="scale(1 1)" d="M-7.5,-5.5 C-6,-10 1,-10.5 5.5,-7 C9.5,-3.5 9.5,3 6.5,4.5 C4,5.5 3,1.5 0,0 C-3,-1.5 -8.5,-1 -7.5,-5.5 Z" fill="#4c9ccb" stroke="#b0587a" stroke-width="0.6"/>
<circle cx="-6" cy="5" r="0.55" fill="#d86a4a"/>
<circle cx="-3" cy="7" r="0.55" fill="#d86a4a"/>
<circle cx="0" cy="7.5" r="0.55" fill="#d86a4a"/>
<circle cx="3" cy="7" r="0.55" fill="#d86a4a"/>
<circle cx="-8" cy="1.5" r="0.55" fill="#d86a4a"/>
<circle cx="-5" cy="2" r="0.55" fill="#d86a4a"/>
</g>
<g transform="translate(53.5 1296.3) rotate(0)">
<ellipse rx="11.7" ry="12" fill="url(#gMono)" stroke="#a49466" stroke-width="0.7"/>
<path transform="scale(1 1)" d="M-7.5,-5.5 C-6,-10 1,-10.5 5.5,-7 C9.5,-3.5 9.5,3 6.5,4.5 C4,5.5 3,1.5 0,0 C-3,-1.5 -8.5,-1 -7.5,-5.5 Z" fill="#4c9ccb" stroke="#b0587a" stroke-width="0.6"/>
<circle cx="-6" cy="5" r="0.55" fill="#d86a4a"/>
<circle cx="-3" cy="7" r="0.55" fill="#d86a4a"/>
<circle cx="0" cy="7.5" r="0.55" fill="#d86a4a"/>
<circle cx="3" cy="7" r="0.55" fill="#d86a4a"/>
<circle cx="-8" cy="1.5" r="0.55" fill="#d86a4a"/>
<circle cx="-5" cy="2" r="0.55" fill="#d86a4a"/>
</g>
<g transform="translate(116.3 1241.9)">
<ellipse rx="10.5" ry="11" fill="url(#gTout)"/>
<circle r="7.3" fill="url(#gTin)"/>
</g>
<g transform="translate(138.6 1243.5)">
<ellipse rx="10.5" ry="11" fill="url(#gTout)"/>
<circle r="7.3" fill="url(#gTin)"/>
</g>
<g transform="translate(115.5 1263.8)">
<ellipse rx="10.5" ry="11" fill="url(#gTout)"/>
<circle r="7.3" fill="url(#gTin)"/>
</g>
<g transform="translate(136.3 1268.7)">
<ellipse rx="10.5" ry="11" fill="url(#gTout)"/>
<circle r="7.3" fill="url(#gTin)"/>
</g>
<g transform="translate(156.1 1262.5)">
<ellipse rx="10.5" ry="11" fill="url(#gTout)"/>
<circle r="7.3" fill="url(#gTin)"/>
</g>
<g transform="translate(117.5 1289)">
<ellipse rx="10.5" ry="11" fill="url(#gTout)"/>
<circle r="7.3" fill="url(#gTin)"/>
</g>
<g transform="translate(143.4 1290.6)">
<ellipse rx="10.5" ry="11" fill="url(#gTout)"/>
<circle r="7.3" fill="url(#gTin)"/>
</g>
<g transform="translate(215.4 1244)">
<path d="M0,-12.5 C7.13,-12.5 11.5,-7.75 11.5,0 C11.5,7.75 6.67,12.5 0,12.5 C-6.67,12.5 -11.5,7.75 -11.5,0 C-11.5,-7.75 -7.13,-12.5 0,-12.5 Z" fill="url(#gB)" stroke="#ea8f3a" stroke-width="1.3"/>
<circle r="6.5" fill="url(#gBn)"/>
</g>
<g transform="translate(191.8 1252.1)">
<path d="M0,-12.5 C7.13,-12.5 11.5,-7.75 11.5,0 C11.5,7.75 6.67,12.5 0,12.5 C-6.67,12.5 -11.5,7.75 -11.5,0 C-11.5,-7.75 -7.13,-12.5 0,-12.5 Z" fill="url(#gB)" stroke="#ea8f3a" stroke-width="1.3"/>
<circle r="6.5" fill="url(#gBn)"/>
</g>
<g transform="translate(240.8 1251.7)">
<path d="M0,-12.5 C7.13,-12.5 11.5,-7.75 11.5,0 C11.5,7.75 6.67,12.5 0,12.5 C-6.67,12.5 -11.5,7.75 -11.5,0 C-11.5,-7.75 -7.13,-12.5 0,-12.5 Z" fill="url(#gB)" stroke="#ea8f3a" stroke-width="1.3"/>
<circle r="6.5" fill="url(#gBn)"/>
</g>
<g transform="translate(215.8 1268.4)">
<path d="M0,-12.5 C7.13,-12.5 11.5,-7.75 11.5,0 C11.5,7.75 6.67,12.5 0,12.5 C-6.67,12.5 -11.5,7.75 -11.5,0 C-11.5,-7.75 -7.13,-12.5 0,-12.5 Z" fill="url(#gB)" stroke="#ea8f3a" stroke-width="1.3"/>
<circle r="6.5" fill="url(#gBn)"/>
</g>
<g transform="translate(190.2 1276.8)">
<path d="M0,-12.5 C7.13,-12.5 11.5,-7.75 11.5,0 C11.5,7.75 6.67,12.5 0,12.5 C-6.67,12.5 -11.5,7.75 -11.5,0 C-11.5,-7.75 -7.13,-12.5 0,-12.5 Z" fill="url(#gB)" stroke="#ea8f3a" stroke-width="1.3"/>
<circle r="6.5" fill="url(#gBn)"/>
</g>
<g transform="translate(240.8 1276.8)">
<path d="M0,-12.5 C7.13,-12.5 11.5,-7.75 11.5,0 C11.5,7.75 6.67,12.5 0,12.5 C-6.67,12.5 -11.5,7.75 -11.5,0 C-11.5,-7.75 -7.13,-12.5 0,-12.5 Z" fill="url(#gB)" stroke="#ea8f3a" stroke-width="1.3"/>
<circle r="6.5" fill="url(#gBn)"/>
</g>
<g transform="translate(214.5 1297.1)">
<path d="M0,-12.5 C7.13,-12.5 11.5,-7.75 11.5,0 C11.5,7.75 6.67,12.5 0,12.5 C-6.67,12.5 -11.5,7.75 -11.5,0 C-11.5,-7.75 -7.13,-12.5 0,-12.5 Z" fill="url(#gB)" stroke="#ea8f3a" stroke-width="1.3"/>
<circle r="6.5" fill="url(#gBn)"/>
</g>
<circle cx="111" cy="1316" r="0.8" fill="#e02020"/>
<text x="50.5" y="1332" font-size="18" text-anchor="middle" textLength="48.8" lengthAdjust="spacingAndGlyphs">CD14+</text>
<text x="51" y="1354.5" font-size="18" text-anchor="middle" textLength="75.7" lengthAdjust="spacingAndGlyphs">Monocytes</text>
<text x="138.5" y="1332.7" font-size="18" text-anchor="middle" textLength="41.5" lengthAdjust="spacingAndGlyphs">CD3+</text>
<text x="138.7" y="1355" font-size="18" text-anchor="middle" textLength="45.5" lengthAdjust="spacingAndGlyphs">T cells</text>
<text x="220.4" y="1335" font-size="18" text-anchor="middle" textLength="51" lengthAdjust="spacingAndGlyphs">CD19+</text>
<text x="220.2" y="1357.5" font-size="18" text-anchor="middle" textLength="46.2" lengthAdjust="spacingAndGlyphs">B cells</text>
<text x="356" y="1111" font-size="18" text-anchor="middle" textLength="65.6" lengthAdjust="spacingAndGlyphs">Synthetic</text>
<text x="356.4" y="1132.7" font-size="18" text-anchor="middle" textLength="131.7" lengthAdjust="spacingAndGlyphs">crRNA&amp;tracerRNA</text>
<text x="497.5" y="1111" font-size="18" text-anchor="middle" textLength="37.1" lengthAdjust="spacingAndGlyphs">Cas9</text>
<text x="496.9" y="1132.7" font-size="18" text-anchor="middle" textLength="50.6" lengthAdjust="spacingAndGlyphs">Protein</text>
<g transform="translate(310.6 1155.4)">
<path d="M0,-2.4 H34 V2.4 H0 Z" fill="#26a04c"/>
<path d="M34,-2.4 L52,-4.2 L52,2.8 L34,2.4 Z" fill="#3a5f8c"/>
<path d="M51.5,-4.2 H80 Q87.2,-4.2 87.2,3 V12.5 Q87.2,19.5 80,19.5 H51.5 Z" fill="#3a5f8c"/>
<path d="M35.5,12.5 C38,15 39,19 38.8,28 L38.8,50 C38.8,59 48.3,59 48.3,50 L48.6,27 C48.6,21 50,18.5 56,18.3" fill="none" stroke="#3a5f8c" stroke-width="4.2"/>
<path d="M82.2,3 V15" stroke="#fff" stroke-width="1.1"/>
</g>
<path d="M490,1146 C515,1143 536,1158 539.5,1184 C542,1208 522,1222 500,1222 C481,1222 471,1213 472.5,1203 C474,1195 484,1193 484.3,1187 C484,1181 473,1176 472,1165 C471,1153 479,1147 490,1146 Z" fill="url(#gCas)" stroke="#ebc77c" stroke-width="1.3"/>
<text x="507.6" y="1188.7" font-size="18" text-anchor="middle" textLength="36.8" lengthAdjust="spacingAndGlyphs">Cas9</text>
<path d="M356.9 1224.4 V1255.3 H498.6 V1224.4" fill="none" stroke="#000" stroke-width="4.2"/>
<line x1="427.3" y1="1257" x2="427.3" y2="1289.5" stroke="#000" stroke-width="1.8"/>
<path d="M424.3 1288.5 L430.3 1288.5 L427.3 1295 Z" fill="#000"/>
<path d="M415,1298 C440,1296 462,1310 467,1331 C470,1351 450,1368 430,1373 C412,1377 400,1370 400,1360 C400,1350 410,1345 411.6,1339.4 C410,1333 399,1327 399.5,1313 C400,1303 407,1298 415,1298 Z" fill="url(#gCas)" stroke="#ebc77c" stroke-width="1.3"/>
<g transform="translate(391.1 1321.9)">
<path d="M0,-2.4 H34 V2.4 H0 Z" fill="#26a04c"/>
<path d="M34,-2.4 L52,-4.2 L52,2.8 L34,2.4 Z" fill="#3a5f8c"/>
<path d="M51.5,-4.2 H80 Q87.2,-4.2 87.2,3 V12.5 Q87.2,19.5 80,19.5 H51.5 Z" fill="#3a5f8c"/>
<path d="M35.5,12.5 C38,15 39,19 38.8,28 L38.8,50 C38.8,59 48.3,59 48.3,50 L48.6,27 C48.6,21 50,18.5 56,18.3" fill="none" stroke="#3a5f8c" stroke-width="4.2"/>
<path d="M82.2,3 V15" stroke="#fff" stroke-width="1.1"/>
</g>
<text x="509.5" y="1324.8" font-size="18" text-anchor="middle" textLength="36.7" lengthAdjust="spacingAndGlyphs">Cas9</text>
<text x="509.8" y="1347" font-size="18" text-anchor="middle" textLength="33.5" lengthAdjust="spacingAndGlyphs">RNP</text>
<path d="M116.4 1382 V1413.8 H432.6 V1382" fill="none" stroke="#000" stroke-width="4.8"/>
<line x1="280.8" y1="1414" x2="280.8" y2="1456.5" stroke="#000" stroke-width="1.9"/>
<path d="M277.8 1455.5 L283.8 1455.5 L280.8 1462.5 Z" fill="#000"/>
<rect x="209.4" y="1466.2" width="69.4" height="3.9" rx="1.5" fill="#000"/>
<rect x="209.4" y="1480.5" width="69.4" height="3.6" rx="1.5" fill="#000"/>
<rect x="211.9" y="1468" width="3.2" height="14" fill="#000"/>
<rect x="220.9" y="1468" width="3.2" height="14" fill="#000"/>
<rect x="228.9" y="1468" width="3.2" height="14" fill="#000"/>
<rect x="238" y="1468" width="3.2" height="14" fill="#000"/>
<rect x="245.5" y="1468" width="3.2" height="14" fill="#000"/>
<rect x="254.7" y="1468" width="3.2" height="14" fill="#000"/>
<rect x="262.7" y="1468" width="3.2" height="14" fill="#000"/>
<rect x="271.3" y="1468" width="3.2" height="14" fill="#000"/>
<rect x="285.7" y="1466.2" width="69.1" height="3.9" rx="1.5" fill="#000"/>
<rect x="285.7" y="1480.5" width="69.1" height="3.6" rx="1.5" fill="#000"/>
<rect x="288.1" y="1468" width="3.2" height="14" fill="#000"/>
<rect x="297" y="1468" width="3.2" height="14" fill="#000"/>
<rect x="305" y="1468" width="3.2" height="14" fill="#000"/>
<rect x="313.6" y="1468" width="3.2" height="14" fill="#000"/>
<rect x="322.2" y="1468" width="3.2" height="14" fill="#000"/>
<rect x="330.2" y="1468" width="3.2" height="14" fill="#000"/>
<rect x="338.2" y="1468" width="3.2" height="14" fill="#000"/>
<rect x="347" y="1468" width="3.2" height="14" fill="#000"/>
<text x="279.5" y="1503.6" font-size="18" text-anchor="middle" textLength="108.8" lengthAdjust="spacingAndGlyphs">Cas9 Cleavage</text>
<text x="279.6" y="1525.5" font-size="18" text-anchor="middle" textLength="116.4" lengthAdjust="spacingAndGlyphs">rs2431697 locus</text>
<line x1="284.4" y1="1528" x2="284.4" y2="1569" stroke="#000" stroke-width="5"/>
<line x1="118" y1="1569" x2="425" y2="1569" stroke="#000" stroke-width="5"/>
<line x1="121.2" y1="1569" x2="121.2" y2="1602" stroke="#000" stroke-width="2.4"/>
<path d="M117.8 1601 L124.6 1601 L121.2 1609 Z" fill="#000"/>
<line x1="422.6" y1="1569" x2="422.6" y2="1602" stroke="#000" stroke-width="2.4"/>
<path d="M419.2 1601 L426 1601 L422.6 1609 Z" fill="#000"/>
<text x="126.9" y="1626" font-size="18" text-anchor="middle" textLength="117.8" lengthAdjust="spacingAndGlyphs">editing efficiency</text>
<text x="124.5" y="1648.4" font-size="18" text-anchor="middle" textLength="79" lengthAdjust="spacingAndGlyphs">analysis by</text>
<text x="126.9" y="1670.2" font-size="18" text-anchor="middle" textLength="80.1" lengthAdjust="spacingAndGlyphs">T7EI assay</text>
<text x="431.5" y="1626" font-size="18" text-anchor="middle" textLength="105.2" lengthAdjust="spacingAndGlyphs">qPCR analysis</text>
<text x="431.5" y="1648.4" font-size="18" text-anchor="middle" textLength="87" lengthAdjust="spacingAndGlyphs">of miR-146a</text>
<text x="431.3" y="1670.2" font-size="18" text-anchor="middle" textLength="76.4" lengthAdjust="spacingAndGlyphs">expression</text>
<text x="2.52" y="1789.2" font-size="27" font-weight="bold" textLength="11.69" lengthAdjust="spacingAndGlyphs">k</text>
<g transform="translate(128.87 1667) scale(0.2218 0.229)"><path d="M70,718 L1118,718" stroke="#000" stroke-width="34" fill="none"/>
<path d="M74,720 L252,628" stroke="#000" stroke-width="30" fill="none"/>
<ellipse cx="284" cy="664" rx="29" ry="20" fill="#000"/>
<path d="M262,628 L280,660" stroke="#000" stroke-width="28" fill="none"/>
<path d="M268,640 C236,612 226,568 246,540 C266,512 312,508 333,530 C346,545 348,565 364,592" stroke="#000" stroke-width="36" fill="none"/>
<path d="M338,560 C336,515 365,490 405,488 C445,486 470,505 470,530 L468,546" stroke="#000" stroke-width="34" fill="none"/>
<path d="M466,530 C560,468 700,432 850,438 C1000,444 1105,520 1120,615 L1122,728" stroke="#000" stroke-width="32" fill="none"/>
<path d="M1122,600 L1292,614" stroke="#000" stroke-width="30" fill="none"/>
<path d="M1290,630 C1400,642 1472,610 1462,555 C1452,500 1375,468 1295,446" stroke="#000" stroke-width="40" fill="none"/></g>
<text x="279.6" y="1815.2" font-size="18.3" text-anchor="middle" textLength="39.5" lengthAdjust="spacingAndGlyphs">NSG</text>
<line x1="283" y1="1849.3" x2="283" y2="1896.2" stroke="#000" stroke-width="3.2"/>
<path d="M273.2 1893.2 L283 1896.8 L292.7 1893.2 L283 1915.7 Z" fill="#000"/>
<text x="140.3" y="1874.3" font-size="17" textLength="125.3" lengthAdjust="spacingAndGlyphs">Human PBMCs</text>
<text x="140.3" y="1895.7" font-size="17" textLength="124.3" lengthAdjust="spacingAndGlyphs">Transplantation</text>
<g transform="translate(120 1910) scale(0.24673)"><path d="M282,282 C240,320 165,370 182,412 C198,442 400,418 495,406" stroke="#000" stroke-width="18" fill="none"/>
<path d="M490,384 L1108,316 L1110,352 L492,432 Z" fill="#000"/>
<path d="M1106,322 C1200,302 1290,318 1355,350" stroke="#000" stroke-width="13" fill="none"/>
<g transform="translate(282 290) rotate(-41.3)">
<rect x="0" y="-30" width="76" height="58" fill="#000"/>
<rect x="81" y="-36" width="78" height="56" fill="#000"/>
<rect x="164" y="-29" width="78" height="58" fill="#000"/>
<rect x="247" y="-35" width="72" height="57" fill="#000"/>
<rect x="310" y="-9" width="44" height="17" fill="#000"/>
</g><path d="M70,718 L1118,718" stroke="#000" stroke-width="34" fill="none"/>
<path d="M74,720 L252,628" stroke="#000" stroke-width="30" fill="none"/>
<ellipse cx="284" cy="664" rx="29" ry="20" fill="#000"/>
<path d="M262,628 L280,660" stroke="#000" stroke-width="28" fill="none"/>
<path d="M268,640 C236,612 226,568 246,540 C266,512 312,508 333,530 C346,545 348,565 364,592" stroke="#000" stroke-width="36" fill="none"/>
<path d="M338,560 C336,515 365,490 405,488 C445,486 470,505 470,530 L468,546" stroke="#000" stroke-width="34" fill="none"/>
<path d="M466,530 C560,468 700,432 850,438 C1000,444 1105,520 1120,615 L1122,728" stroke="#000" stroke-width="32" fill="none"/>
<path d="M1122,600 L1292,614" stroke="#000" stroke-width="30" fill="none"/>
<path d="M1290,630 C1400,642 1472,610 1462,555 C1452,500 1375,468 1295,446" stroke="#000" stroke-width="40" fill="none"/></g>
<text x="164.91" y="1984.02" font-size="17" textLength="76" lengthAdjust="spacingAndGlyphs" transform="rotate(-42.5 164.91 1984.02)">enhancer</text>
<text x="256.44" y="1994.63" font-size="17.5" textLength="84" lengthAdjust="spacingAndGlyphs" transform="rotate(-7.5 256.44 1994.63)">miR-146a</text>
<g transform="translate(247.1 2063) rotate(0)">
<ellipse rx="17.3" ry="14.8" fill="url(#gMono)" stroke="#a49466" stroke-width="0.7"/>
<path transform="scale(1.48 1.23)" d="M-7.5,-5.5 C-6,-10 1,-10.5 5.5,-7 C9.5,-3.5 9.5,3 6.5,4.5 C4,5.5 3,1.5 0,0 C-3,-1.5 -8.5,-1 -7.5,-5.5 Z" fill="#4c9ccb" stroke="#b0587a" stroke-width="0.6"/>
<circle cx="-8.87" cy="6.17" r="0.55" fill="#d86a4a"/>
<circle cx="-4.44" cy="8.63" r="0.55" fill="#d86a4a"/>
<circle cx="0" cy="9.25" r="0.55" fill="#d86a4a"/>
<circle cx="4.44" cy="8.63" r="0.55" fill="#d86a4a"/>
<circle cx="-11.83" cy="1.85" r="0.55" fill="#d86a4a"/>
<circle cx="-7.39" cy="2.47" r="0.55" fill="#d86a4a"/>
</g>
<g transform="translate(300.1 2054.3)">
<ellipse rx="17" ry="16" fill="url(#gTout)"/>
<circle r="12" fill="url(#gTin)"/>
</g>
<g transform="translate(347 2063)">
<path d="M0,-14.3 C11.47,-14.3 18.5,-8.87 18.5,0 C18.5,8.87 10.73,14.3 0,14.3 C-10.73,14.3 -18.5,8.87 -18.5,0 C-18.5,-8.87 -11.47,-14.3 0,-14.3 Z" fill="url(#gB)" stroke="#ea8f3a" stroke-width="1.3"/>
<circle r="11" fill="url(#gBn)"/>
</g>
<text x="266" y="2108" font-size="17" text-anchor="middle" textLength="177.5" lengthAdjust="spacingAndGlyphs">humanized NSG mice</text>
<line x1="295.5" y1="2118.5" x2="295.5" y2="2179.5" stroke="#000" stroke-width="3.2"/>
<path d="M285.7 2176.5 L295.5 2180.1 L305.2 2176.5 L295.5 2198.2 Z" fill="#000"/>
<text x="104.5" y="2149.5" font-size="17" textLength="183" lengthAdjust="spacingAndGlyphs">Adenovirus Cas9-GFP</text>
<text x="146.8" y="2171.2" font-size="17" textLength="99.5" lengthAdjust="spacingAndGlyphs">Dual gRNAs</text>
<g transform="translate(118.6 2188.8) scale(0.24673)"><path d="M282,282 C240,320 165,370 182,412 C198,442 400,418 495,406" stroke="#000" stroke-width="18" fill="none"/>
<path d="M490,384 L1108,316 L1110,352 L492,432 Z" fill="#000"/>
<path d="M1106,322 C1200,302 1290,318 1355,350" stroke="#000" stroke-width="13" fill="none"/>
<g transform="translate(282 290) rotate(-41.3)">
<rect x="0" y="-30" width="76" height="58" fill="#000"/>
<rect x="81" y="-36" width="78" height="56" fill="#000"/>
<rect x="164" y="-29" width="78" height="58" fill="#000"/>
<rect x="247" y="-35" width="72" height="57" fill="#000"/>
<rect x="310" y="-9" width="44" height="17" fill="#000"/>
</g><g transform="translate(282 290) rotate(-41.3)"><path d="M120,-44 V40 M205,-44 V40" stroke="#fff" stroke-width="7"/><path d="M128,-48 V-30 M212,-48 V-30 M128,26 V42 M212,26 V42" stroke="#000" stroke-width="8"/></g></g>
<g transform="translate(106.3 2189.3) scale(0.24673)"><path d="M70,718 L1118,718" stroke="#000" stroke-width="34" fill="none"/>
<path d="M74,720 L252,628" stroke="#000" stroke-width="30" fill="none"/>
<ellipse cx="284" cy="664" rx="29" ry="20" fill="#000"/>
<path d="M262,628 L280,660" stroke="#000" stroke-width="28" fill="none"/>
<path d="M268,640 C236,612 226,568 246,540 C266,512 312,508 333,530 C346,545 348,565 364,592" stroke="#000" stroke-width="36" fill="none"/>
<path d="M338,560 C336,515 365,490 405,488 C445,486 470,505 470,530 L468,546" stroke="#000" stroke-width="34" fill="none"/>
<path d="M466,530 C560,468 700,432 850,438 C1000,444 1105,520 1120,615 L1122,728" stroke="#000" stroke-width="32" fill="none"/>
<path d="M1122,600 L1292,614" stroke="#000" stroke-width="30" fill="none"/>
<path d="M1290,630 C1400,642 1472,610 1462,555 C1452,500 1375,468 1295,446" stroke="#000" stroke-width="40" fill="none"/></g>
<text x="163.51" y="2262.82" font-size="17" textLength="76" lengthAdjust="spacingAndGlyphs" transform="rotate(-42.5 163.51 2262.82)">enhancer</text>
<text x="255.04" y="2273.43" font-size="17.5" textLength="86" lengthAdjust="spacingAndGlyphs" transform="rotate(-7.5 255.04 2273.43)">miR-146a</text>
<g transform="translate(233.4 2346) rotate(0)">
<ellipse rx="17" ry="13" fill="url(#gMono)" stroke="#a49466" stroke-width="0.7"/>
<circle cx="-1" cy="3" r="10.4" fill="#1a9048"/>
</g>
<g transform="translate(285.7 2333.1)">
<ellipse rx="17" ry="15.5" fill="url(#gTout)"/>
<circle cx="-1" cy="0.5" r="11" fill="#1a9048"/>
</g>
<g transform="translate(332 2347.2)">
<path d="M0,-14 C11.47,-14 18.5,-8.68 18.5,0 C18.5,8.68 10.73,14 0,14 C-10.73,14 -18.5,8.68 -18.5,0 C-18.5,-8.68 -11.47,-14 0,-14 Z" fill="url(#gB)" stroke="#ea8f3a" stroke-width="1.3"/>
<circle cx="-3" cy="1" r="11" fill="#1a9048"/>
</g>
<line x1="295.5" y1="2386.5" x2="295.5" y2="2440.8" stroke="#000" stroke-width="3.2"/>
<path d="M285.7 2437.8 L295.5 2441.4 L305.2 2437.8 L295.5 2459.5 Z" fill="#000"/>
<text x="200.3" y="2415.7" font-size="17" textLength="82.5" lengthAdjust="spacingAndGlyphs">FACS sort</text>
<text x="165.6" y="2484" font-size="18" textLength="249" lengthAdjust="spacingAndGlyphs">100 GFP+ human CD14+ cells</text>
<text x="165.6" y="2505.6" font-size="18" textLength="249" lengthAdjust="spacingAndGlyphs">100 GFP+ human CD19+ cells</text>
<text x="170.5" y="2526.8" font-size="18" textLength="238.5" lengthAdjust="spacingAndGlyphs">100 GFP+ human CD3+ cells</text>
</svg>
</body></html>
